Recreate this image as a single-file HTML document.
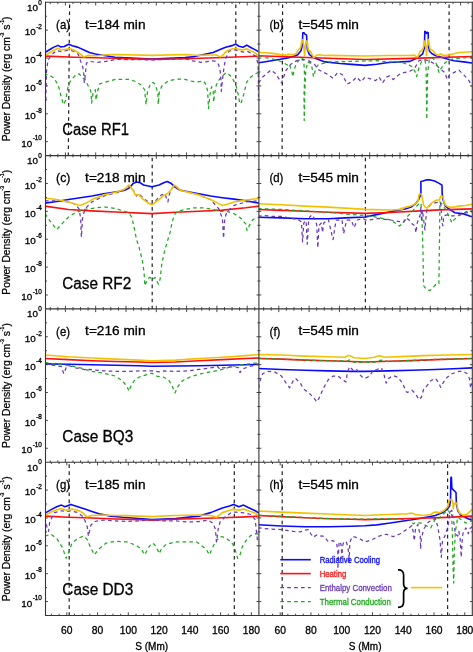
<!DOCTYPE html>
<html><head><meta charset="utf-8"><style>
html,body{margin:0;padding:0;background:#fff;}
svg{display:block;will-change:transform;}
text{font-family:"Liberation Sans",sans-serif;}
</style></head><body>
<svg width="473" height="652" viewBox="0 0 473 652">
<defs><clipPath id="p00"><rect x="45.50" y="2.30" width="213.40" height="153.30"/></clipPath><clipPath id="p01"><rect x="258.90" y="2.30" width="213.40" height="153.30"/></clipPath><clipPath id="p10"><rect x="45.50" y="155.60" width="213.40" height="153.30"/></clipPath><clipPath id="p11"><rect x="258.90" y="155.60" width="213.40" height="153.30"/></clipPath><clipPath id="p20"><rect x="45.50" y="308.90" width="213.40" height="153.30"/></clipPath><clipPath id="p21"><rect x="258.90" y="308.90" width="213.40" height="153.30"/></clipPath><clipPath id="p30"><rect x="45.50" y="462.20" width="213.40" height="153.30"/></clipPath><clipPath id="p31"><rect x="258.90" y="462.20" width="213.40" height="153.30"/></clipPath></defs>
<rect width="473" height="652" fill="#fff"/>
<line x1="69.60" y1="4.40" x2="68.30" y2="155.60" stroke="#222" stroke-width="1.2" stroke-dasharray="3.6 3.45"/>
<line x1="235.80" y1="4.40" x2="235.80" y2="155.60" stroke="#222" stroke-width="1.2" stroke-dasharray="3.6 3.45"/>
<line x1="282.60" y1="4.40" x2="282.10" y2="155.60" stroke="#222" stroke-width="1.2" stroke-dasharray="3.6 3.45"/>
<line x1="449.10" y1="4.40" x2="449.10" y2="155.60" stroke="#222" stroke-width="1.2" stroke-dasharray="3.6 3.45"/>
<line x1="152.20" y1="157.70" x2="152.20" y2="308.90" stroke="#222" stroke-width="1.2" stroke-dasharray="3.6 3.45"/>
<line x1="365.40" y1="157.70" x2="365.40" y2="308.90" stroke="#222" stroke-width="1.2" stroke-dasharray="3.6 3.45"/>
<line x1="69.20" y1="464.30" x2="69.20" y2="615.50" stroke="#222" stroke-width="1.2" stroke-dasharray="3.6 3.45"/>
<line x1="234.30" y1="464.30" x2="234.30" y2="615.50" stroke="#222" stroke-width="1.2" stroke-dasharray="3.6 3.45"/>
<line x1="282.20" y1="464.30" x2="282.20" y2="615.50" stroke="#222" stroke-width="1.2" stroke-dasharray="3.6 3.45"/>
<line x1="447.60" y1="464.30" x2="447.60" y2="615.50" stroke="#222" stroke-width="1.2" stroke-dasharray="3.6 3.45"/>
<polyline points="45.74,52.02 49.44,49.80 53.88,47.14 58.02,45.36 60.54,46.84 64.24,46.54 68.68,44.18 72.38,45.66 77.56,47.14 83.48,49.80 89.40,52.46 95.32,53.94 104.20,55.42 115.00,57.20 152.00,59.12 185.00,57.49 194.39,56.59 203.77,54.56 213.16,52.52 219.42,49.86 225.68,47.20 231.93,45.64 235.85,44.07 238.97,46.26 242.89,47.20 246.80,45.17 250.71,47.52 255.40,49.86 258.22,51.43" fill="none" stroke="#0a0aff" stroke-width="1.6" stroke-linejoin="round" clip-path="url(#p00)"/>
<polyline points="258.74,62.74 265.40,61.70 272.80,60.52 280.20,59.33 287.60,57.85 293.50,56.40 297.70,54.70 301.10,50.40 302.30,45.40 302.80,32.70 304.00,32.70 305.30,34.40 306.60,35.20 306.80,41.10 307.40,49.60 309.50,54.70 312.90,57.20 317.10,58.90 325.00,61.90 340.13,63.48 351.86,64.42 365.00,65.36 376.74,64.22 388.48,62.57 410.00,61.40 418.50,57.20 422.70,53.80 424.40,47.90 424.80,31.40 425.60,31.80 426.50,33.50 427.30,32.30 428.20,32.70 428.40,45.40 429.50,51.30 432.00,53.80 435.40,55.50 439.60,56.80 443.80,58.00 450.00,59.70 454.22,60.70 463.61,61.87 472.06,63.04" fill="none" stroke="#0a0aff" stroke-width="1.6" stroke-linejoin="round" clip-path="url(#p01)"/>
<polyline points="45.00,203.10 56.73,201.46 68.46,199.58 80.20,197.71 91.93,196.06 103.66,193.72 115.39,192.07 124.78,190.20 129.47,187.85 132.99,183.63 136.51,181.98 140.03,182.69 143.55,185.04 148.25,185.97 152.00,186.68 159.04,185.04 163.73,182.69 167.25,181.52 170.77,183.16 175.46,187.38 180.16,190.20 189.54,192.07 198.93,193.72 210.66,196.06 222.39,197.71 234.13,199.11 245.86,200.76 259.00,203.10" fill="none" stroke="#0a0aff" stroke-width="1.6" stroke-linejoin="round" clip-path="url(#p10)"/>
<polyline points="258.00,217.18 281.46,217.89 304.93,218.82 328.39,218.82 345.12,217.88 365.37,216.98 375.35,214.86 390.47,211.84 400.00,209.89 405.00,209.00 411.30,206.90 415.60,203.70 418.70,199.50 420.30,195.80 420.90,193.10 420.90,181.50 423.00,181.00 426.10,179.90 430.40,179.90 434.60,181.00 438.80,183.10 442.00,185.20 442.20,194.20 443.00,199.50 445.20,205.80 448.30,208.50 451.50,210.60 455.00,212.70 463.83,213.88 471.80,216.87" fill="none" stroke="#0a0aff" stroke-width="1.6" stroke-linejoin="round" clip-path="url(#p11)"/>
<polyline points="45.00,363.85 68.46,364.32 91.93,364.79 115.39,365.25 138.86,365.72 152.00,366.19 175.46,365.96 198.93,365.72 222.39,365.25 245.86,364.79 259.00,364.32" fill="none" stroke="#0a0aff" stroke-width="1.6" stroke-linejoin="round" clip-path="url(#p20)"/>
<polyline points="258.00,368.54 281.46,369.48 304.93,370.18 328.39,370.89 351.86,371.36 365.00,371.36 388.48,370.92 411.96,370.22 435.43,369.51 458.91,368.57 472.06,367.87" fill="none" stroke="#0a0aff" stroke-width="1.6" stroke-linejoin="round" clip-path="url(#p21)"/>
<polyline points="45.00,513.09 52.04,509.10 56.73,506.76 61.43,505.11 64.95,506.76 70.81,504.41 77.85,506.76 84.89,509.10 91.93,511.45 98.97,513.80 110.70,516.14 122.43,517.32 138.86,518.49 152.00,519.66 175.46,518.49 198.93,516.14 210.66,512.62 222.39,507.93 229.43,506.05 233.66,504.41 238.82,506.76 243.51,505.11 248.21,507.46 255.25,510.75 259.00,513.09" fill="none" stroke="#0a0aff" stroke-width="1.6" stroke-linejoin="round" clip-path="url(#p30)"/>
<polyline points="258.00,524.82 281.46,526.00 304.93,526.70 328.39,526.70 351.86,526.23 365.00,525.76 376.74,524.86 388.48,523.22 400.22,521.57 411.96,519.70 423.70,517.82 435.43,515.47 437.60,514.60 442.20,512.80 446.80,509.60 449.60,505.90 450.50,500.40 450.90,477.40 451.40,477.40 451.90,488.40 456.00,492.50 456.40,504.00 457.80,510.50 460.60,515.10 465.20,517.40 470.70,519.70 472.50,520.00" fill="none" stroke="#0a0aff" stroke-width="1.6" stroke-linejoin="round" clip-path="url(#p31)"/>
<polyline points="45.74,56.16 74.60,57.20 115.00,58.23 152.00,59.42 185.00,58.68 216.29,57.68 258.22,56.12" fill="none" stroke="#ff1010" stroke-width="1.6" stroke-linejoin="round" clip-path="url(#p00)"/>
<polyline points="258.00,55.78 328.00,58.30 365.00,59.49 411.96,58.35 472.06,56.47" fill="none" stroke="#ff1010" stroke-width="1.6" stroke-linejoin="round" clip-path="url(#p01)"/>
<polyline points="45.00,206.15 68.46,209.44 91.93,210.85 115.39,212.02 152.00,213.66 175.46,212.25 198.93,211.32 222.39,210.14 245.86,207.80 259.00,206.15" fill="none" stroke="#ff1010" stroke-width="1.6" stroke-linejoin="round" clip-path="url(#p10)"/>
<polyline points="258.00,209.44 281.46,210.38 304.93,211.32 328.39,212.25 365.37,213.35 390.47,212.44 419.95,210.89 439.89,209.89 471.80,208.89" fill="none" stroke="#ff1010" stroke-width="1.6" stroke-linejoin="round" clip-path="url(#p11)"/>
<polyline points="45.00,358.45 68.46,359.62 91.93,360.80 115.39,361.50 138.86,361.97 152.00,362.44 175.46,361.97 198.93,360.80 222.39,359.62 245.86,358.45 259.00,357.98" fill="none" stroke="#ff1010" stroke-width="1.6" stroke-linejoin="round" clip-path="url(#p20)"/>
<polyline points="258.00,358.45 281.46,359.15 304.93,360.09 328.39,360.80 351.86,361.50 365.00,361.97 388.48,361.30 411.96,360.59 435.43,359.65 472.06,358.48" fill="none" stroke="#ff1010" stroke-width="1.6" stroke-linejoin="round" clip-path="url(#p21)"/>
<polyline points="45.00,516.14 68.46,517.32 91.93,518.02 115.39,518.96 138.86,519.66 152.00,520.13 175.46,519.19 198.93,518.49 222.39,517.79 245.86,516.85 259.00,516.14" fill="none" stroke="#ff1010" stroke-width="1.6" stroke-linejoin="round" clip-path="url(#p30)"/>
<polyline points="258.00,515.44 281.46,516.61 304.93,517.79 328.39,518.72 351.86,519.19 365.00,519.66 411.96,518.52 447.17,517.35 472.06,516.17" fill="none" stroke="#ff1010" stroke-width="1.6" stroke-linejoin="round" clip-path="url(#p31)"/>
<polyline points="45.80,76.00 45.74,74.22 49.44,74.96 53.88,77.92 58.32,85.32 61.28,97.16 63.50,104.56 65.72,100.12 67.20,91.24 68.68,83.84 71.64,79.40 76.08,74.66 79.04,73.77 82.00,77.18 84.96,79.40 87.92,85.32 90.88,91.24 91.62,103.08 93.10,92.72 95.32,89.76 96.06,100.12 97.54,91.24 99.76,83.84 104.20,82.36 110.12,80.88 115.00,79.40 122.40,79.40 129.80,79.40 135.72,81.62 141.64,85.32 144.60,89.76 146.08,104.56 147.56,91.24 150.52,83.84 153.18,82.36 155.70,85.32 157.92,94.20 158.21,104.56 159.40,91.24 162.36,85.32 168.28,80.88 177.16,79.10 185.00,79.40 191.26,81.15 197.52,81.93 203.77,81.15 206.12,85.06 207.68,91.32 208.47,108.53 210.03,94.45 211.60,86.63 213.16,91.32 213.63,102.27 214.73,92.89 216.29,85.06 218.64,80.37 222.55,75.68 226.46,72.55 230.37,75.68 233.50,80.37 235.85,85.06 238.19,94.45 239.76,103.84 241.32,102.27 243.67,94.45 246.80,81.93 250.71,77.24 254.62,74.11 258.22,72.55 258.60,74.00" fill="none" stroke="#1eaa1e" stroke-width="1.25" stroke-linejoin="round" stroke-dasharray="3.6 3.2" clip-path="url(#p00)"/>
<polyline points="258.74,55.34 265.40,57.56 272.80,59.04 280.20,61.26 284.64,63.48 287.60,64.96 289.08,63.77 292.04,72.36 292.78,76.80 294.26,69.40 296.48,63.48 298.70,60.52 300.92,57.56 302.40,58.30 303.88,62.00 304.62,76.80 303.99,95.86 304.23,120.50 304.70,95.86 305.65,72.36 307.58,62.00 311.28,63.48 313.50,76.80 314.24,75.32 315.72,67.92 318.68,64.22 323.12,63.48 328.00,62.00 376.74,60.70 388.48,61.87 400.22,61.87 407.26,64.22 411.96,66.57 415.48,72.43 416.65,76.66 419.00,67.74 421.35,61.87 424.87,60.23 426.04,65.39 426.75,119.39 427.69,72.43 429.57,58.35 433.09,58.35 436.61,64.22 438.96,72.43 440.13,70.09 444.83,63.04 449.52,59.52 458.91,58.35 472.06,57.17" fill="none" stroke="#1eaa1e" stroke-width="1.25" stroke-linejoin="round" stroke-dasharray="3.6 3.2" clip-path="url(#p01)"/>
<polyline points="45.00,213.66 49.69,220.70 56.73,229.62 63.77,221.88 68.46,217.18 75.50,212.49 84.89,209.44 96.62,207.80 106.01,207.09 115.39,208.50 124.78,211.32 128.30,212.49 131.82,217.18 134.17,227.74 136.51,239.47 138.97,246.91 142.36,260.44 144.05,272.28 144.89,285.81 147.43,279.05 149.97,277.36 152.51,279.89 155.04,277.36 156.73,280.74 158.42,284.12 160.12,279.05 161.81,263.83 164.34,251.99 167.73,240.15 170.26,231.69 171.95,223.05 174.29,214.84 177.81,211.32 184.85,209.44 194.24,207.80 203.62,207.80 213.01,209.44 220.05,211.32 227.09,211.32 234.13,213.66 241.17,218.36 245.86,224.22 247.03,230.56 249.38,225.39 252.90,219.53 259.00,217.18" fill="none" stroke="#1eaa1e" stroke-width="1.25" stroke-linejoin="round" stroke-dasharray="3.6 3.2" clip-path="url(#p10)"/>
<polyline points="258.00,208.50 281.46,209.44 304.93,210.85 328.39,212.25 345.12,213.95 365.37,215.47 375.35,216.98 390.47,220.00 399.53,226.05 403.99,221.86 407.98,215.87 411.97,211.89 415.96,206.90 418.95,203.91 420.94,202.91 421.94,215.87 422.94,249.78 423.54,285.68 425.93,288.67 429.92,290.67 432.91,287.68 435.90,284.09 438.89,283.69 439.49,239.81 439.89,201.91 441.89,203.91 445.87,209.89 449.86,217.87 451.86,222.86 453.85,219.86 459.84,214.88 465.82,211.89 471.80,209.89" fill="none" stroke="#1eaa1e" stroke-width="1.25" stroke-linejoin="round" stroke-dasharray="3.6 3.2" clip-path="url(#p11)"/>
<polyline points="45.00,362.44 56.73,364.32 68.46,365.49 80.20,367.84 91.93,371.36 103.66,373.23 115.39,376.05 122.43,380.74 127.13,386.61 129.00,391.30 130.65,386.61 134.17,380.74 138.86,377.22 145.90,374.88 152.00,373.23 156.69,376.05 163.73,377.22 168.43,379.57 171.95,385.43 175.00,392.94 177.81,386.61 182.50,380.74 189.54,377.22 198.93,374.17 210.66,371.82 222.39,369.48 229.43,367.13 236.47,365.49 245.86,364.32 255.25,363.14 259.00,363.14" fill="none" stroke="#1eaa1e" stroke-width="1.25" stroke-linejoin="round" stroke-dasharray="3.6 3.2" clip-path="url(#p20)"/>
<polyline points="258.00,358.21 281.46,359.15 304.93,360.09 328.39,360.80 347.17,361.03 349.51,359.86 351.86,361.03 354.21,362.44 365.00,362.20 374.39,362.47 376.74,360.83 381.43,360.12 388.48,361.53 411.96,360.36 435.43,359.42 472.06,358.48" fill="none" stroke="#1eaa1e" stroke-width="1.25" stroke-linejoin="round" stroke-dasharray="3.6 3.2" clip-path="url(#p21)"/>
<polyline points="45.00,536.09 50.87,534.21 56.73,538.43 62.60,547.82 66.12,558.38 68.46,552.51 71.98,543.13 77.85,538.43 83.72,536.09 87.24,539.61 90.76,547.82 94.28,554.86 98.97,548.99 106.01,543.13 115.39,541.25 127.13,541.95 136.51,545.47 141.21,548.99 144.73,554.86 148.25,547.82 152.00,543.13 154.35,544.30 157.87,550.17 159.04,553.69 161.39,548.99 166.08,544.30 175.46,541.95 187.20,541.95 196.58,541.95 201.28,545.47 205.97,548.99 209.49,554.86 211.84,548.99 215.36,541.95 220.05,536.56 224.74,537.26 229.43,540.78 232.95,544.30 235.30,550.17 237.65,558.38 239.99,554.86 242.34,546.65 245.86,540.78 250.55,535.62 255.25,533.74 259.00,534.21" fill="none" stroke="#1eaa1e" stroke-width="1.25" stroke-linejoin="round" stroke-dasharray="3.6 3.2" clip-path="url(#p30)"/>
<polyline points="258.00,515.20 281.46,516.38 304.93,517.55 328.39,518.49 351.86,518.96 365.00,519.19 388.48,518.52 400.22,519.23 410.78,519.70 413.13,523.92 415.48,522.51 421.35,523.22 428.39,526.74 430.74,527.91 434.26,520.87 435.43,518.52 437.78,519.23 442.48,515.00 446.00,511.48 448.35,510.30 449.99,513.83 451.40,512.65 452.34,531.43 453.04,566.65 453.75,583.09 454.22,554.91 455.39,531.43 456.57,524.39 457.74,517.35 461.26,519.70 465.96,523.22 469.48,521.57 472.06,520.87" fill="none" stroke="#1eaa1e" stroke-width="1.25" stroke-linejoin="round" stroke-dasharray="3.6 3.2" clip-path="url(#p31)"/>
<polyline points="45.74,100.12 46.48,72.00 47.96,60.16 50.92,55.72 53.88,52.76 56.84,50.54 61.28,51.58 65.72,50.54 69.42,49.80 74.60,51.58 78.30,54.24 80.52,60.90 82.74,66.82 83.77,73.48 84.22,82.36 84.96,77.92 86.44,63.12 89.40,61.34 96.80,62.38 104.20,61.64 110.12,60.90 115.00,59.42 152.00,59.86 185.00,58.68 192.82,60.81 200.64,62.38 206.90,61.60 213.16,60.81 216.29,61.60 218.64,64.73 220.20,70.98 220.98,80.37 221.30,91.32 222.55,78.81 224.11,66.29 225.68,58.47 228.81,51.43 231.93,49.86 235.06,49.86 239.76,51.43 244.45,52.21 247.58,51.43 252.27,53.77 256.18,56.90 257.75,63.16 258.22,69.42 258.60,100.00" fill="none" stroke="#6a3ab8" stroke-width="1.25" stroke-linejoin="round" stroke-dasharray="3.6 3.2" clip-path="url(#p00)"/>
<polyline points="258.47,82.95 262.69,77.09 270.91,70.05 275.60,73.57 281.46,82.95 286.16,70.05 290.85,64.18 296.72,60.66 303.76,59.49 308.45,60.66 314.32,64.18 319.01,70.05 323.70,72.39 328.39,74.74 333.09,78.26 337.78,72.39 342.47,74.74 347.17,84.13 351.86,81.78 356.55,77.09 361.25,81.78 365.00,77.09 372.04,79.48 375.57,80.65 379.09,77.13 382.61,83.00 386.13,77.13 389.65,75.96 393.17,79.48 396.70,76.66 400.22,73.61 404.91,72.43 409.61,71.26 414.30,68.91 419.00,60.70 423.70,59.52 428.39,60.70 433.09,63.04 435.43,64.22 440.13,68.91 444.83,72.43 447.17,79.48 449.52,74.78 454.22,72.43 458.91,70.09 463.61,74.78 468.30,79.48 472.06,86.52" fill="none" stroke="#6a3ab8" stroke-width="1.25" stroke-linejoin="round" stroke-dasharray="3.6 3.2" clip-path="url(#p01)"/>
<polyline points="45.00,200.76 56.73,200.76 68.46,201.93 75.50,204.28 79.02,208.97 80.67,218.36 81.37,237.13 82.54,218.36 84.89,208.97 91.93,201.93 103.66,196.06 115.39,193.01 124.78,190.20 129.47,185.50 132.99,190.20 135.34,192.54 136.51,196.06 137.69,193.72 140.03,194.89 143.55,198.41 148.25,201.93 152.00,204.28 156.69,199.58 161.39,194.89 164.91,193.72 166.55,198.41 167.96,201.93 168.89,196.06 170.77,190.20 174.29,185.50 177.81,189.02 187.20,192.07 198.93,194.89 210.66,199.58 218.88,208.97 222.39,218.36 223.57,238.30 224.74,218.36 227.09,211.32 234.13,205.45 245.86,201.93 259.00,200.76" fill="none" stroke="#6a3ab8" stroke-width="1.25" stroke-linejoin="round" stroke-dasharray="3.6 3.2" clip-path="url(#p10)"/>
<polyline points="258.00,216.01 265.04,215.54 272.08,216.48 281.46,216.48 290.85,218.36 297.89,219.53 301.41,221.88 302.58,241.82 303.76,223.05 306.10,220.70 307.28,244.17 308.45,223.05 309.62,217.18 311.97,214.84 314.32,218.36 316.66,224.22 317.84,247.69 319.01,225.39 321.36,223.05 322.53,232.43 323.70,223.05 328.39,219.53 333.02,239.65 336.05,220.00 342.09,220.00 343.60,233.60 346.63,220.00 351.16,220.00 354.19,227.56 357.21,220.00 363.26,218.49 365.37,220.00 369.30,220.00 378.37,218.49 390.47,220.00 399.53,221.51 402.99,222.86 405.98,217.87 408.98,219.86 411.97,223.85 414.96,225.85 415.96,232.83 416.95,223.85 418.95,217.87 419.95,215.87 420.94,206.90 421.54,221.86 422.34,209.89 423.93,221.86 424.93,229.84 425.93,217.87 426.93,209.89 429.92,204.90 433.91,202.91 437.90,202.31 439.89,201.91 440.89,204.90 441.89,221.86 442.88,225.85 443.88,215.87 446.87,214.88 449.86,215.87 453.85,215.87 459.84,214.88 465.82,212.88 471.80,211.89" fill="none" stroke="#6a3ab8" stroke-width="1.25" stroke-linejoin="round" stroke-dasharray="3.6 3.2" clip-path="url(#p11)"/>
<polyline points="45.00,363.85 54.39,365.49 61.43,366.66 63.77,373.70 66.12,367.84 68.46,365.49 75.50,367.84 82.54,369.01 86.06,370.18 89.58,369.48 103.66,370.89 115.39,371.36 127.13,371.36 138.86,370.89 152.00,370.89 159.04,371.82 163.73,370.89 175.46,371.36 187.20,370.89 198.93,369.48 210.66,367.84 217.70,366.66 220.05,369.48 222.39,367.84 234.13,366.66 238.82,367.84 239.99,372.53 242.34,369.01 250.55,366.19 259.00,364.32" fill="none" stroke="#6a3ab8" stroke-width="1.25" stroke-linejoin="round" stroke-dasharray="3.6 3.2" clip-path="url(#p20)"/>
<polyline points="258.47,394.82 259.17,383.09 262.69,373.70 267.39,371.36 274.43,371.82 281.46,376.05 286.16,383.09 289.68,387.78 293.20,380.74 295.54,378.39 300.24,383.09 303.76,388.95 309.62,393.65 314.32,398.34 316.66,401.86 319.01,398.34 323.70,387.78 328.39,379.57 333.09,376.05 337.78,376.05 342.47,379.57 345.99,381.91 347.17,373.70 349.51,366.66 353.03,370.18 356.55,369.01 358.90,373.70 362.42,377.22 365.00,378.39 369.70,376.09 373.22,370.22 376.74,369.51 379.09,368.57 381.43,367.87 383.78,373.74 386.13,383.13 388.48,378.43 393.17,375.62 397.87,377.26 402.57,383.13 406.09,391.35 407.26,392.52 411.96,390.17 415.48,393.70 419.00,399.57 421.35,397.22 423.70,389.00 427.22,385.48 430.74,380.78 435.43,378.43 438.96,383.13 440.60,387.36 443.65,381.96 447.17,377.26 451.87,373.74 458.91,371.39 463.61,371.39 467.13,373.74 469.48,378.43 470.65,387.83 472.06,383.13" fill="none" stroke="#6a3ab8" stroke-width="1.25" stroke-linejoin="round" stroke-dasharray="3.6 3.2" clip-path="url(#p21)"/>
<polyline points="45.00,517.32 46.17,524.36 48.52,531.39 49.69,522.01 54.39,512.62 61.43,510.75 66.12,511.45 70.81,510.75 77.85,512.62 83.72,517.32 87.24,526.70 88.41,536.09 90.76,525.53 94.28,521.54 103.66,520.13 115.39,520.84 127.13,521.54 138.86,520.84 152.00,520.13 163.73,520.84 175.46,520.84 187.20,522.01 198.93,521.54 208.32,520.13 213.01,523.18 215.36,529.05 216.53,541.95 218.17,529.05 220.05,522.01 224.74,517.32 231.78,512.15 236.47,512.15 241.17,512.62 245.86,513.09 250.55,514.50 255.25,519.66 256.42,531.39 257.59,540.78" fill="none" stroke="#6a3ab8" stroke-width="1.25" stroke-linejoin="round" stroke-dasharray="3.6 3.2" clip-path="url(#p30)"/>
<polyline points="258.00,527.88 269.73,529.05 281.46,529.52 293.20,531.39 300.24,531.86 304.93,530.22 308.45,529.52 310.80,533.74 313.14,537.26 316.66,534.91 321.36,536.09 322.50,535.90 325.10,537.60 327.60,541.00 329.30,541.80 332.70,540.60 335.20,541.80 336.90,544.80 337.80,552.00 337.90,568.90 338.40,555.40 339.00,543.50 340.30,541.40 341.10,545.20 342.00,557.90 342.40,546.90 343.70,541.80 346.20,541.80 347.90,546.90 348.80,555.40 349.20,562.10 349.60,546.90 350.40,541.00 352.10,536.80 355.50,537.20 361.25,539.61 365.00,541.95 372.04,539.65 379.09,536.13 386.13,534.25 393.17,536.60 400.22,533.78 407.26,529.09 411.96,525.57 413.13,531.43 414.30,540.83 415.48,529.09 417.83,524.39 420.17,534.96 420.64,549.04 421.35,538.48 423.70,529.09 428.39,522.04 433.09,519.70 435.43,518.52 437.78,526.74 440.13,540.83 441.30,557.26 442.48,540.83 444.83,536.13 447.17,529.09 448.35,524.39 449.52,512.65 451.87,510.30 453.75,522.04 455.39,533.78 457.74,536.13 458.91,531.43 460.09,538.48 461.26,557.26 462.43,536.13 463.61,531.43 465.96,527.91 468.30,533.78 469.48,529.09 472.06,526.74" fill="none" stroke="#6a3ab8" stroke-width="1.25" stroke-linejoin="round" stroke-dasharray="3.6 3.2" clip-path="url(#p31)"/>
<polyline points="45.74,54.98 50.92,52.02 57.58,48.32 61.28,49.80 65.72,49.36 69.42,48.62 74.60,50.54 79.04,53.05 83.77,56.90 87.92,55.42 96.80,55.72 107.16,54.68 115.00,54.53 152.00,55.42 185.00,54.53 192.82,55.03 200.64,55.34 208.47,55.03 216.29,55.03 220.20,56.90 222.55,55.34 227.24,50.64 231.93,49.08 235.85,48.30 238.97,49.39 242.89,49.86 246.80,48.77 250.71,50.64 255.40,52.99 258.22,56.12" fill="none" stroke="#f2c200" stroke-width="1.6" stroke-linejoin="round" clip-path="url(#p00)"/>
<polyline points="258.74,52.38 265.40,52.82 272.80,53.41 280.20,54.60 285.00,55.10 289.20,54.20 293.50,54.70 296.80,53.00 298.10,50.00 300.60,47.50 301.90,40.30 302.80,39.50 303.60,45.40 304.60,55.50 305.30,47.10 306.10,41.10 307.20,41.10 308.30,50.40 310.40,51.30 312.10,54.70 313.80,57.60 316.30,55.50 318.80,54.70 325.00,55.50 328.00,55.34 365.00,56.00 388.48,55.53 410.00,55.50 414.20,55.10 417.60,57.20 420.10,51.30 422.70,49.60 424.00,45.40 424.50,41.10 425.60,45.40 426.50,55.50 427.30,45.40 428.20,39.40 429.00,43.70 430.30,49.60 432.80,50.40 435.40,53.80 437.90,55.50 440.40,53.80 443.80,55.50 450.00,54.70 458.91,52.48 472.06,51.77" fill="none" stroke="#f2c200" stroke-width="1.6" stroke-linejoin="round" clip-path="url(#p01)"/>
<polyline points="45.00,197.94 56.73,199.58 68.46,201.93 80.20,205.45 86.06,203.10 91.93,199.58 103.66,194.89 115.39,192.54 124.78,189.02 129.00,185.04 132.99,190.20 135.34,194.89 138.86,194.89 143.55,199.58 148.25,203.10 152.00,204.75 159.04,199.58 163.73,195.36 167.25,193.72 170.77,190.20 174.29,185.04 176.64,186.68 180.16,190.20 189.54,192.54 198.93,194.89 210.66,199.58 217.70,203.10 222.39,205.45 227.09,204.28 234.13,201.93 245.86,200.05 259.00,198.41" fill="none" stroke="#f2c200" stroke-width="1.6" stroke-linejoin="round" clip-path="url(#p10)"/>
<polyline points="258.00,203.81 281.46,204.75 304.93,206.15 328.39,207.09 365.37,209.42 390.47,210.02 402.56,209.42 400.00,208.89 405.00,207.40 409.20,206.40 413.50,204.80 416.60,202.70 418.20,200.50 419.00,194.70 419.80,193.70 421.40,194.20 422.40,198.40 423.50,204.80 425.60,207.40 427.20,207.90 428.80,205.80 431.40,203.20 434.60,201.10 437.20,200.00 439.40,200.00 440.40,196.80 441.50,195.80 443.00,196.80 444.10,202.10 445.70,205.30 448.30,206.90 451.50,207.40 455.00,206.90 459.84,205.90 465.82,205.50 471.80,204.31" fill="none" stroke="#f2c200" stroke-width="1.6" stroke-linejoin="round" clip-path="url(#p11)"/>
<polyline points="45.00,354.93 68.46,356.81 91.93,357.98 115.39,359.15 138.86,360.09 152.00,360.80 175.46,360.09 198.93,358.45 222.39,357.28 245.86,355.63 259.00,354.46" fill="none" stroke="#f2c200" stroke-width="1.6" stroke-linejoin="round" clip-path="url(#p20)"/>
<polyline points="258.00,354.46 281.46,354.93 304.93,356.10 328.39,356.81 344.82,357.28 348.34,355.40 350.69,356.10 354.21,357.75 365.00,358.45 374.39,357.30 379.09,355.66 381.43,356.13 383.78,357.30 400.22,356.60 423.70,355.66 447.17,354.96 472.06,354.49" fill="none" stroke="#f2c200" stroke-width="1.6" stroke-linejoin="round" clip-path="url(#p21)"/>
<polyline points="45.00,515.44 52.04,511.45 61.43,508.40 66.12,510.28 71.98,509.10 77.85,510.28 82.54,512.62 86.77,516.85 91.93,515.44 103.66,514.97 115.39,515.44 127.13,515.67 138.86,516.14 152.00,516.61 175.46,515.44 198.93,514.97 210.66,515.44 216.53,517.32 222.39,512.62 229.43,510.28 234.13,509.10 238.82,510.28 243.51,509.10 248.21,510.75 255.25,513.09 259.00,516.14" fill="none" stroke="#f2c200" stroke-width="1.6" stroke-linejoin="round" clip-path="url(#p30)"/>
<polyline points="258.00,510.98 281.46,512.15 304.93,513.09 328.39,514.03 351.86,514.97 365.00,515.44 376.74,515.00 388.48,514.53 400.22,514.06 407.26,513.83 411.96,513.12 415.48,514.53 423.70,515.47 430.74,514.53 433.00,512.80 435.80,511.90 439.40,512.80 444.00,510.50 447.70,506.80 449.10,500.40 450.90,499.40 452.80,501.30 453.20,508.60 454.00,503.60 456.90,503.10 457.60,508.60 459.70,513.20 463.30,515.10 467.00,514.20 470.70,510.90 472.50,509.00" fill="none" stroke="#f2c200" stroke-width="1.6" stroke-linejoin="round" clip-path="url(#p31)"/>
<line x1="280.3" y1="559.7" x2="310.8" y2="559.7" stroke="#0a0aff" stroke-width="1.6"/>
<text x="319.70" y="562.60" font-size="8.8" fill="#0a0aff" stroke="#0a0aff" stroke-width="0.3" text-anchor="start" textLength="60.4" lengthAdjust="spacingAndGlyphs" >Radiative Cooling</text>
<line x1="280.3" y1="573.6" x2="310.8" y2="573.6" stroke="#ff1010" stroke-width="1.6"/>
<text x="319.70" y="576.50" font-size="8.8" fill="#ff1010" stroke="#ff1010" stroke-width="0.3" text-anchor="start" textLength="26.6" lengthAdjust="spacingAndGlyphs" >Heating</text>
<line x1="280.3" y1="587.6" x2="310.8" y2="587.6" stroke="#6a3ab8" stroke-width="1.3" stroke-dasharray="3.7 3.2"/>
<text x="319.70" y="590.50" font-size="8.8" fill="#6a3ab8" stroke="#6a3ab8" stroke-width="0.3" text-anchor="start" textLength="72.1" lengthAdjust="spacingAndGlyphs" >Enthalpy Convection</text>
<line x1="280.3" y1="601.6" x2="310.8" y2="601.6" stroke="#1eaa1e" stroke-width="1.3" stroke-dasharray="3.7 3.2"/>
<text x="319.70" y="604.50" font-size="8.8" fill="#1eaa1e" stroke="#1eaa1e" stroke-width="0.3" text-anchor="start" textLength="71.1" lengthAdjust="spacingAndGlyphs" >Thermal Conduction</text>
<path d="M398,569.9 Q403.6,569.6 403.6,575 L403.6,583.8 Q403.6,588.3 407.6,588.3 Q403.6,588.3 403.6,592.8 L403.6,602 Q403.6,607.4 398,607.4" fill="none" stroke="#000" stroke-width="1.7"/>
<line x1="411" y1="587.6" x2="442" y2="587.6" stroke="#f2c200" stroke-width="1.6"/>
<line x1="50.25" y1="155.60" x2="50.25" y2="153.80" stroke="#353535" stroke-width="0.9" />
<line x1="50.25" y1="2.30" x2="50.25" y2="4.10" stroke="#353535" stroke-width="0.9" />
<line x1="57.83" y1="155.60" x2="57.83" y2="153.80" stroke="#353535" stroke-width="0.9" />
<line x1="57.83" y1="2.30" x2="57.83" y2="4.10" stroke="#353535" stroke-width="0.9" />
<line x1="65.40" y1="155.60" x2="65.40" y2="152.40" stroke="#353535" stroke-width="0.9" />
<line x1="65.40" y1="2.30" x2="65.40" y2="5.50" stroke="#353535" stroke-width="0.9" />
<line x1="72.98" y1="155.60" x2="72.98" y2="153.80" stroke="#353535" stroke-width="0.9" />
<line x1="72.98" y1="2.30" x2="72.98" y2="4.10" stroke="#353535" stroke-width="0.9" />
<line x1="80.55" y1="155.60" x2="80.55" y2="153.80" stroke="#353535" stroke-width="0.9" />
<line x1="80.55" y1="2.30" x2="80.55" y2="4.10" stroke="#353535" stroke-width="0.9" />
<line x1="88.12" y1="155.60" x2="88.12" y2="153.80" stroke="#353535" stroke-width="0.9" />
<line x1="88.12" y1="2.30" x2="88.12" y2="4.10" stroke="#353535" stroke-width="0.9" />
<line x1="95.70" y1="155.60" x2="95.70" y2="152.40" stroke="#353535" stroke-width="0.9" />
<line x1="95.70" y1="2.30" x2="95.70" y2="5.50" stroke="#353535" stroke-width="0.9" />
<line x1="103.28" y1="155.60" x2="103.28" y2="153.80" stroke="#353535" stroke-width="0.9" />
<line x1="103.28" y1="2.30" x2="103.28" y2="4.10" stroke="#353535" stroke-width="0.9" />
<line x1="110.85" y1="155.60" x2="110.85" y2="153.80" stroke="#353535" stroke-width="0.9" />
<line x1="110.85" y1="2.30" x2="110.85" y2="4.10" stroke="#353535" stroke-width="0.9" />
<line x1="118.43" y1="155.60" x2="118.43" y2="153.80" stroke="#353535" stroke-width="0.9" />
<line x1="118.43" y1="2.30" x2="118.43" y2="4.10" stroke="#353535" stroke-width="0.9" />
<line x1="126.00" y1="155.60" x2="126.00" y2="152.40" stroke="#353535" stroke-width="0.9" />
<line x1="126.00" y1="2.30" x2="126.00" y2="5.50" stroke="#353535" stroke-width="0.9" />
<line x1="133.57" y1="155.60" x2="133.57" y2="153.80" stroke="#353535" stroke-width="0.9" />
<line x1="133.57" y1="2.30" x2="133.57" y2="4.10" stroke="#353535" stroke-width="0.9" />
<line x1="141.15" y1="155.60" x2="141.15" y2="153.80" stroke="#353535" stroke-width="0.9" />
<line x1="141.15" y1="2.30" x2="141.15" y2="4.10" stroke="#353535" stroke-width="0.9" />
<line x1="148.72" y1="155.60" x2="148.72" y2="153.80" stroke="#353535" stroke-width="0.9" />
<line x1="148.72" y1="2.30" x2="148.72" y2="4.10" stroke="#353535" stroke-width="0.9" />
<line x1="156.30" y1="155.60" x2="156.30" y2="152.40" stroke="#353535" stroke-width="0.9" />
<line x1="156.30" y1="2.30" x2="156.30" y2="5.50" stroke="#353535" stroke-width="0.9" />
<line x1="163.88" y1="155.60" x2="163.88" y2="153.80" stroke="#353535" stroke-width="0.9" />
<line x1="163.88" y1="2.30" x2="163.88" y2="4.10" stroke="#353535" stroke-width="0.9" />
<line x1="171.45" y1="155.60" x2="171.45" y2="153.80" stroke="#353535" stroke-width="0.9" />
<line x1="171.45" y1="2.30" x2="171.45" y2="4.10" stroke="#353535" stroke-width="0.9" />
<line x1="179.02" y1="155.60" x2="179.02" y2="153.80" stroke="#353535" stroke-width="0.9" />
<line x1="179.02" y1="2.30" x2="179.02" y2="4.10" stroke="#353535" stroke-width="0.9" />
<line x1="186.60" y1="155.60" x2="186.60" y2="152.40" stroke="#353535" stroke-width="0.9" />
<line x1="186.60" y1="2.30" x2="186.60" y2="5.50" stroke="#353535" stroke-width="0.9" />
<line x1="194.18" y1="155.60" x2="194.18" y2="153.80" stroke="#353535" stroke-width="0.9" />
<line x1="194.18" y1="2.30" x2="194.18" y2="4.10" stroke="#353535" stroke-width="0.9" />
<line x1="201.75" y1="155.60" x2="201.75" y2="153.80" stroke="#353535" stroke-width="0.9" />
<line x1="201.75" y1="2.30" x2="201.75" y2="4.10" stroke="#353535" stroke-width="0.9" />
<line x1="209.32" y1="155.60" x2="209.32" y2="153.80" stroke="#353535" stroke-width="0.9" />
<line x1="209.32" y1="2.30" x2="209.32" y2="4.10" stroke="#353535" stroke-width="0.9" />
<line x1="216.90" y1="155.60" x2="216.90" y2="152.40" stroke="#353535" stroke-width="0.9" />
<line x1="216.90" y1="2.30" x2="216.90" y2="5.50" stroke="#353535" stroke-width="0.9" />
<line x1="224.47" y1="155.60" x2="224.47" y2="153.80" stroke="#353535" stroke-width="0.9" />
<line x1="224.47" y1="2.30" x2="224.47" y2="4.10" stroke="#353535" stroke-width="0.9" />
<line x1="232.05" y1="155.60" x2="232.05" y2="153.80" stroke="#353535" stroke-width="0.9" />
<line x1="232.05" y1="2.30" x2="232.05" y2="4.10" stroke="#353535" stroke-width="0.9" />
<line x1="239.62" y1="155.60" x2="239.62" y2="153.80" stroke="#353535" stroke-width="0.9" />
<line x1="239.62" y1="2.30" x2="239.62" y2="4.10" stroke="#353535" stroke-width="0.9" />
<line x1="247.20" y1="155.60" x2="247.20" y2="152.40" stroke="#353535" stroke-width="0.9" />
<line x1="247.20" y1="2.30" x2="247.20" y2="5.50" stroke="#353535" stroke-width="0.9" />
<line x1="254.78" y1="155.60" x2="254.78" y2="153.80" stroke="#353535" stroke-width="0.9" />
<line x1="254.78" y1="2.30" x2="254.78" y2="4.10" stroke="#353535" stroke-width="0.9" />
<line x1="45.50" y1="16.24" x2="47.00" y2="16.24" stroke="#353535" stroke-width="0.9" />
<line x1="258.90" y1="16.24" x2="257.40" y2="16.24" stroke="#353535" stroke-width="0.9" />
<line x1="45.50" y1="30.17" x2="47.90" y2="30.17" stroke="#353535" stroke-width="0.9" />
<line x1="258.90" y1="30.17" x2="256.50" y2="30.17" stroke="#353535" stroke-width="0.9" />
<line x1="45.50" y1="44.11" x2="47.00" y2="44.11" stroke="#353535" stroke-width="0.9" />
<line x1="258.90" y1="44.11" x2="257.40" y2="44.11" stroke="#353535" stroke-width="0.9" />
<line x1="45.50" y1="58.05" x2="47.90" y2="58.05" stroke="#353535" stroke-width="0.9" />
<line x1="258.90" y1="58.05" x2="256.50" y2="58.05" stroke="#353535" stroke-width="0.9" />
<line x1="45.50" y1="71.98" x2="47.00" y2="71.98" stroke="#353535" stroke-width="0.9" />
<line x1="258.90" y1="71.98" x2="257.40" y2="71.98" stroke="#353535" stroke-width="0.9" />
<line x1="45.50" y1="85.92" x2="47.90" y2="85.92" stroke="#353535" stroke-width="0.9" />
<line x1="258.90" y1="85.92" x2="256.50" y2="85.92" stroke="#353535" stroke-width="0.9" />
<line x1="45.50" y1="99.85" x2="47.00" y2="99.85" stroke="#353535" stroke-width="0.9" />
<line x1="258.90" y1="99.85" x2="257.40" y2="99.85" stroke="#353535" stroke-width="0.9" />
<line x1="45.50" y1="113.79" x2="47.90" y2="113.79" stroke="#353535" stroke-width="0.9" />
<line x1="258.90" y1="113.79" x2="256.50" y2="113.79" stroke="#353535" stroke-width="0.9" />
<line x1="45.50" y1="127.73" x2="47.00" y2="127.73" stroke="#353535" stroke-width="0.9" />
<line x1="258.90" y1="127.73" x2="257.40" y2="127.73" stroke="#353535" stroke-width="0.9" />
<line x1="45.50" y1="141.66" x2="47.90" y2="141.66" stroke="#353535" stroke-width="0.9" />
<line x1="258.90" y1="141.66" x2="256.50" y2="141.66" stroke="#353535" stroke-width="0.9" />
<line x1="263.65" y1="155.60" x2="263.65" y2="153.80" stroke="#353535" stroke-width="0.9" />
<line x1="263.65" y1="2.30" x2="263.65" y2="4.10" stroke="#353535" stroke-width="0.9" />
<line x1="271.22" y1="155.60" x2="271.22" y2="153.80" stroke="#353535" stroke-width="0.9" />
<line x1="271.22" y1="2.30" x2="271.22" y2="4.10" stroke="#353535" stroke-width="0.9" />
<line x1="278.80" y1="155.60" x2="278.80" y2="152.40" stroke="#353535" stroke-width="0.9" />
<line x1="278.80" y1="2.30" x2="278.80" y2="5.50" stroke="#353535" stroke-width="0.9" />
<line x1="286.37" y1="155.60" x2="286.37" y2="153.80" stroke="#353535" stroke-width="0.9" />
<line x1="286.37" y1="2.30" x2="286.37" y2="4.10" stroke="#353535" stroke-width="0.9" />
<line x1="293.95" y1="155.60" x2="293.95" y2="153.80" stroke="#353535" stroke-width="0.9" />
<line x1="293.95" y1="2.30" x2="293.95" y2="4.10" stroke="#353535" stroke-width="0.9" />
<line x1="301.52" y1="155.60" x2="301.52" y2="153.80" stroke="#353535" stroke-width="0.9" />
<line x1="301.52" y1="2.30" x2="301.52" y2="4.10" stroke="#353535" stroke-width="0.9" />
<line x1="309.10" y1="155.60" x2="309.10" y2="152.40" stroke="#353535" stroke-width="0.9" />
<line x1="309.10" y1="2.30" x2="309.10" y2="5.50" stroke="#353535" stroke-width="0.9" />
<line x1="316.67" y1="155.60" x2="316.67" y2="153.80" stroke="#353535" stroke-width="0.9" />
<line x1="316.67" y1="2.30" x2="316.67" y2="4.10" stroke="#353535" stroke-width="0.9" />
<line x1="324.25" y1="155.60" x2="324.25" y2="153.80" stroke="#353535" stroke-width="0.9" />
<line x1="324.25" y1="2.30" x2="324.25" y2="4.10" stroke="#353535" stroke-width="0.9" />
<line x1="331.82" y1="155.60" x2="331.82" y2="153.80" stroke="#353535" stroke-width="0.9" />
<line x1="331.82" y1="2.30" x2="331.82" y2="4.10" stroke="#353535" stroke-width="0.9" />
<line x1="339.40" y1="155.60" x2="339.40" y2="152.40" stroke="#353535" stroke-width="0.9" />
<line x1="339.40" y1="2.30" x2="339.40" y2="5.50" stroke="#353535" stroke-width="0.9" />
<line x1="346.97" y1="155.60" x2="346.97" y2="153.80" stroke="#353535" stroke-width="0.9" />
<line x1="346.97" y1="2.30" x2="346.97" y2="4.10" stroke="#353535" stroke-width="0.9" />
<line x1="354.55" y1="155.60" x2="354.55" y2="153.80" stroke="#353535" stroke-width="0.9" />
<line x1="354.55" y1="2.30" x2="354.55" y2="4.10" stroke="#353535" stroke-width="0.9" />
<line x1="362.12" y1="155.60" x2="362.12" y2="153.80" stroke="#353535" stroke-width="0.9" />
<line x1="362.12" y1="2.30" x2="362.12" y2="4.10" stroke="#353535" stroke-width="0.9" />
<line x1="369.70" y1="155.60" x2="369.70" y2="152.40" stroke="#353535" stroke-width="0.9" />
<line x1="369.70" y1="2.30" x2="369.70" y2="5.50" stroke="#353535" stroke-width="0.9" />
<line x1="377.27" y1="155.60" x2="377.27" y2="153.80" stroke="#353535" stroke-width="0.9" />
<line x1="377.27" y1="2.30" x2="377.27" y2="4.10" stroke="#353535" stroke-width="0.9" />
<line x1="384.85" y1="155.60" x2="384.85" y2="153.80" stroke="#353535" stroke-width="0.9" />
<line x1="384.85" y1="2.30" x2="384.85" y2="4.10" stroke="#353535" stroke-width="0.9" />
<line x1="392.42" y1="155.60" x2="392.42" y2="153.80" stroke="#353535" stroke-width="0.9" />
<line x1="392.42" y1="2.30" x2="392.42" y2="4.10" stroke="#353535" stroke-width="0.9" />
<line x1="400.00" y1="155.60" x2="400.00" y2="152.40" stroke="#353535" stroke-width="0.9" />
<line x1="400.00" y1="2.30" x2="400.00" y2="5.50" stroke="#353535" stroke-width="0.9" />
<line x1="407.57" y1="155.60" x2="407.57" y2="153.80" stroke="#353535" stroke-width="0.9" />
<line x1="407.57" y1="2.30" x2="407.57" y2="4.10" stroke="#353535" stroke-width="0.9" />
<line x1="415.15" y1="155.60" x2="415.15" y2="153.80" stroke="#353535" stroke-width="0.9" />
<line x1="415.15" y1="2.30" x2="415.15" y2="4.10" stroke="#353535" stroke-width="0.9" />
<line x1="422.72" y1="155.60" x2="422.72" y2="153.80" stroke="#353535" stroke-width="0.9" />
<line x1="422.72" y1="2.30" x2="422.72" y2="4.10" stroke="#353535" stroke-width="0.9" />
<line x1="430.30" y1="155.60" x2="430.30" y2="152.40" stroke="#353535" stroke-width="0.9" />
<line x1="430.30" y1="2.30" x2="430.30" y2="5.50" stroke="#353535" stroke-width="0.9" />
<line x1="437.87" y1="155.60" x2="437.87" y2="153.80" stroke="#353535" stroke-width="0.9" />
<line x1="437.87" y1="2.30" x2="437.87" y2="4.10" stroke="#353535" stroke-width="0.9" />
<line x1="445.45" y1="155.60" x2="445.45" y2="153.80" stroke="#353535" stroke-width="0.9" />
<line x1="445.45" y1="2.30" x2="445.45" y2="4.10" stroke="#353535" stroke-width="0.9" />
<line x1="453.02" y1="155.60" x2="453.02" y2="153.80" stroke="#353535" stroke-width="0.9" />
<line x1="453.02" y1="2.30" x2="453.02" y2="4.10" stroke="#353535" stroke-width="0.9" />
<line x1="460.60" y1="155.60" x2="460.60" y2="152.40" stroke="#353535" stroke-width="0.9" />
<line x1="460.60" y1="2.30" x2="460.60" y2="5.50" stroke="#353535" stroke-width="0.9" />
<line x1="468.17" y1="155.60" x2="468.17" y2="153.80" stroke="#353535" stroke-width="0.9" />
<line x1="468.17" y1="2.30" x2="468.17" y2="4.10" stroke="#353535" stroke-width="0.9" />
<line x1="258.90" y1="16.24" x2="260.40" y2="16.24" stroke="#353535" stroke-width="0.9" />
<line x1="472.30" y1="16.24" x2="470.80" y2="16.24" stroke="#353535" stroke-width="0.9" />
<line x1="258.90" y1="30.17" x2="261.30" y2="30.17" stroke="#353535" stroke-width="0.9" />
<line x1="472.30" y1="30.17" x2="469.90" y2="30.17" stroke="#353535" stroke-width="0.9" />
<line x1="258.90" y1="44.11" x2="260.40" y2="44.11" stroke="#353535" stroke-width="0.9" />
<line x1="472.30" y1="44.11" x2="470.80" y2="44.11" stroke="#353535" stroke-width="0.9" />
<line x1="258.90" y1="58.05" x2="261.30" y2="58.05" stroke="#353535" stroke-width="0.9" />
<line x1="472.30" y1="58.05" x2="469.90" y2="58.05" stroke="#353535" stroke-width="0.9" />
<line x1="258.90" y1="71.98" x2="260.40" y2="71.98" stroke="#353535" stroke-width="0.9" />
<line x1="472.30" y1="71.98" x2="470.80" y2="71.98" stroke="#353535" stroke-width="0.9" />
<line x1="258.90" y1="85.92" x2="261.30" y2="85.92" stroke="#353535" stroke-width="0.9" />
<line x1="472.30" y1="85.92" x2="469.90" y2="85.92" stroke="#353535" stroke-width="0.9" />
<line x1="258.90" y1="99.85" x2="260.40" y2="99.85" stroke="#353535" stroke-width="0.9" />
<line x1="472.30" y1="99.85" x2="470.80" y2="99.85" stroke="#353535" stroke-width="0.9" />
<line x1="258.90" y1="113.79" x2="261.30" y2="113.79" stroke="#353535" stroke-width="0.9" />
<line x1="472.30" y1="113.79" x2="469.90" y2="113.79" stroke="#353535" stroke-width="0.9" />
<line x1="258.90" y1="127.73" x2="260.40" y2="127.73" stroke="#353535" stroke-width="0.9" />
<line x1="472.30" y1="127.73" x2="470.80" y2="127.73" stroke="#353535" stroke-width="0.9" />
<line x1="258.90" y1="141.66" x2="261.30" y2="141.66" stroke="#353535" stroke-width="0.9" />
<line x1="472.30" y1="141.66" x2="469.90" y2="141.66" stroke="#353535" stroke-width="0.9" />
<line x1="50.25" y1="308.90" x2="50.25" y2="307.10" stroke="#353535" stroke-width="0.9" />
<line x1="50.25" y1="155.60" x2="50.25" y2="157.40" stroke="#353535" stroke-width="0.9" />
<line x1="57.83" y1="308.90" x2="57.83" y2="307.10" stroke="#353535" stroke-width="0.9" />
<line x1="57.83" y1="155.60" x2="57.83" y2="157.40" stroke="#353535" stroke-width="0.9" />
<line x1="65.40" y1="308.90" x2="65.40" y2="305.70" stroke="#353535" stroke-width="0.9" />
<line x1="65.40" y1="155.60" x2="65.40" y2="158.80" stroke="#353535" stroke-width="0.9" />
<line x1="72.98" y1="308.90" x2="72.98" y2="307.10" stroke="#353535" stroke-width="0.9" />
<line x1="72.98" y1="155.60" x2="72.98" y2="157.40" stroke="#353535" stroke-width="0.9" />
<line x1="80.55" y1="308.90" x2="80.55" y2="307.10" stroke="#353535" stroke-width="0.9" />
<line x1="80.55" y1="155.60" x2="80.55" y2="157.40" stroke="#353535" stroke-width="0.9" />
<line x1="88.12" y1="308.90" x2="88.12" y2="307.10" stroke="#353535" stroke-width="0.9" />
<line x1="88.12" y1="155.60" x2="88.12" y2="157.40" stroke="#353535" stroke-width="0.9" />
<line x1="95.70" y1="308.90" x2="95.70" y2="305.70" stroke="#353535" stroke-width="0.9" />
<line x1="95.70" y1="155.60" x2="95.70" y2="158.80" stroke="#353535" stroke-width="0.9" />
<line x1="103.28" y1="308.90" x2="103.28" y2="307.10" stroke="#353535" stroke-width="0.9" />
<line x1="103.28" y1="155.60" x2="103.28" y2="157.40" stroke="#353535" stroke-width="0.9" />
<line x1="110.85" y1="308.90" x2="110.85" y2="307.10" stroke="#353535" stroke-width="0.9" />
<line x1="110.85" y1="155.60" x2="110.85" y2="157.40" stroke="#353535" stroke-width="0.9" />
<line x1="118.43" y1="308.90" x2="118.43" y2="307.10" stroke="#353535" stroke-width="0.9" />
<line x1="118.43" y1="155.60" x2="118.43" y2="157.40" stroke="#353535" stroke-width="0.9" />
<line x1="126.00" y1="308.90" x2="126.00" y2="305.70" stroke="#353535" stroke-width="0.9" />
<line x1="126.00" y1="155.60" x2="126.00" y2="158.80" stroke="#353535" stroke-width="0.9" />
<line x1="133.57" y1="308.90" x2="133.57" y2="307.10" stroke="#353535" stroke-width="0.9" />
<line x1="133.57" y1="155.60" x2="133.57" y2="157.40" stroke="#353535" stroke-width="0.9" />
<line x1="141.15" y1="308.90" x2="141.15" y2="307.10" stroke="#353535" stroke-width="0.9" />
<line x1="141.15" y1="155.60" x2="141.15" y2="157.40" stroke="#353535" stroke-width="0.9" />
<line x1="148.72" y1="308.90" x2="148.72" y2="307.10" stroke="#353535" stroke-width="0.9" />
<line x1="148.72" y1="155.60" x2="148.72" y2="157.40" stroke="#353535" stroke-width="0.9" />
<line x1="156.30" y1="308.90" x2="156.30" y2="305.70" stroke="#353535" stroke-width="0.9" />
<line x1="156.30" y1="155.60" x2="156.30" y2="158.80" stroke="#353535" stroke-width="0.9" />
<line x1="163.88" y1="308.90" x2="163.88" y2="307.10" stroke="#353535" stroke-width="0.9" />
<line x1="163.88" y1="155.60" x2="163.88" y2="157.40" stroke="#353535" stroke-width="0.9" />
<line x1="171.45" y1="308.90" x2="171.45" y2="307.10" stroke="#353535" stroke-width="0.9" />
<line x1="171.45" y1="155.60" x2="171.45" y2="157.40" stroke="#353535" stroke-width="0.9" />
<line x1="179.02" y1="308.90" x2="179.02" y2="307.10" stroke="#353535" stroke-width="0.9" />
<line x1="179.02" y1="155.60" x2="179.02" y2="157.40" stroke="#353535" stroke-width="0.9" />
<line x1="186.60" y1="308.90" x2="186.60" y2="305.70" stroke="#353535" stroke-width="0.9" />
<line x1="186.60" y1="155.60" x2="186.60" y2="158.80" stroke="#353535" stroke-width="0.9" />
<line x1="194.18" y1="308.90" x2="194.18" y2="307.10" stroke="#353535" stroke-width="0.9" />
<line x1="194.18" y1="155.60" x2="194.18" y2="157.40" stroke="#353535" stroke-width="0.9" />
<line x1="201.75" y1="308.90" x2="201.75" y2="307.10" stroke="#353535" stroke-width="0.9" />
<line x1="201.75" y1="155.60" x2="201.75" y2="157.40" stroke="#353535" stroke-width="0.9" />
<line x1="209.32" y1="308.90" x2="209.32" y2="307.10" stroke="#353535" stroke-width="0.9" />
<line x1="209.32" y1="155.60" x2="209.32" y2="157.40" stroke="#353535" stroke-width="0.9" />
<line x1="216.90" y1="308.90" x2="216.90" y2="305.70" stroke="#353535" stroke-width="0.9" />
<line x1="216.90" y1="155.60" x2="216.90" y2="158.80" stroke="#353535" stroke-width="0.9" />
<line x1="224.47" y1="308.90" x2="224.47" y2="307.10" stroke="#353535" stroke-width="0.9" />
<line x1="224.47" y1="155.60" x2="224.47" y2="157.40" stroke="#353535" stroke-width="0.9" />
<line x1="232.05" y1="308.90" x2="232.05" y2="307.10" stroke="#353535" stroke-width="0.9" />
<line x1="232.05" y1="155.60" x2="232.05" y2="157.40" stroke="#353535" stroke-width="0.9" />
<line x1="239.62" y1="308.90" x2="239.62" y2="307.10" stroke="#353535" stroke-width="0.9" />
<line x1="239.62" y1="155.60" x2="239.62" y2="157.40" stroke="#353535" stroke-width="0.9" />
<line x1="247.20" y1="308.90" x2="247.20" y2="305.70" stroke="#353535" stroke-width="0.9" />
<line x1="247.20" y1="155.60" x2="247.20" y2="158.80" stroke="#353535" stroke-width="0.9" />
<line x1="254.78" y1="308.90" x2="254.78" y2="307.10" stroke="#353535" stroke-width="0.9" />
<line x1="254.78" y1="155.60" x2="254.78" y2="157.40" stroke="#353535" stroke-width="0.9" />
<line x1="45.50" y1="169.54" x2="47.00" y2="169.54" stroke="#353535" stroke-width="0.9" />
<line x1="258.90" y1="169.54" x2="257.40" y2="169.54" stroke="#353535" stroke-width="0.9" />
<line x1="45.50" y1="183.47" x2="47.90" y2="183.47" stroke="#353535" stroke-width="0.9" />
<line x1="258.90" y1="183.47" x2="256.50" y2="183.47" stroke="#353535" stroke-width="0.9" />
<line x1="45.50" y1="197.41" x2="47.00" y2="197.41" stroke="#353535" stroke-width="0.9" />
<line x1="258.90" y1="197.41" x2="257.40" y2="197.41" stroke="#353535" stroke-width="0.9" />
<line x1="45.50" y1="211.35" x2="47.90" y2="211.35" stroke="#353535" stroke-width="0.9" />
<line x1="258.90" y1="211.35" x2="256.50" y2="211.35" stroke="#353535" stroke-width="0.9" />
<line x1="45.50" y1="225.28" x2="47.00" y2="225.28" stroke="#353535" stroke-width="0.9" />
<line x1="258.90" y1="225.28" x2="257.40" y2="225.28" stroke="#353535" stroke-width="0.9" />
<line x1="45.50" y1="239.22" x2="47.90" y2="239.22" stroke="#353535" stroke-width="0.9" />
<line x1="258.90" y1="239.22" x2="256.50" y2="239.22" stroke="#353535" stroke-width="0.9" />
<line x1="45.50" y1="253.15" x2="47.00" y2="253.15" stroke="#353535" stroke-width="0.9" />
<line x1="258.90" y1="253.15" x2="257.40" y2="253.15" stroke="#353535" stroke-width="0.9" />
<line x1="45.50" y1="267.09" x2="47.90" y2="267.09" stroke="#353535" stroke-width="0.9" />
<line x1="258.90" y1="267.09" x2="256.50" y2="267.09" stroke="#353535" stroke-width="0.9" />
<line x1="45.50" y1="281.03" x2="47.00" y2="281.03" stroke="#353535" stroke-width="0.9" />
<line x1="258.90" y1="281.03" x2="257.40" y2="281.03" stroke="#353535" stroke-width="0.9" />
<line x1="45.50" y1="294.96" x2="47.90" y2="294.96" stroke="#353535" stroke-width="0.9" />
<line x1="258.90" y1="294.96" x2="256.50" y2="294.96" stroke="#353535" stroke-width="0.9" />
<line x1="263.65" y1="308.90" x2="263.65" y2="307.10" stroke="#353535" stroke-width="0.9" />
<line x1="263.65" y1="155.60" x2="263.65" y2="157.40" stroke="#353535" stroke-width="0.9" />
<line x1="271.22" y1="308.90" x2="271.22" y2="307.10" stroke="#353535" stroke-width="0.9" />
<line x1="271.22" y1="155.60" x2="271.22" y2="157.40" stroke="#353535" stroke-width="0.9" />
<line x1="278.80" y1="308.90" x2="278.80" y2="305.70" stroke="#353535" stroke-width="0.9" />
<line x1="278.80" y1="155.60" x2="278.80" y2="158.80" stroke="#353535" stroke-width="0.9" />
<line x1="286.37" y1="308.90" x2="286.37" y2="307.10" stroke="#353535" stroke-width="0.9" />
<line x1="286.37" y1="155.60" x2="286.37" y2="157.40" stroke="#353535" stroke-width="0.9" />
<line x1="293.95" y1="308.90" x2="293.95" y2="307.10" stroke="#353535" stroke-width="0.9" />
<line x1="293.95" y1="155.60" x2="293.95" y2="157.40" stroke="#353535" stroke-width="0.9" />
<line x1="301.52" y1="308.90" x2="301.52" y2="307.10" stroke="#353535" stroke-width="0.9" />
<line x1="301.52" y1="155.60" x2="301.52" y2="157.40" stroke="#353535" stroke-width="0.9" />
<line x1="309.10" y1="308.90" x2="309.10" y2="305.70" stroke="#353535" stroke-width="0.9" />
<line x1="309.10" y1="155.60" x2="309.10" y2="158.80" stroke="#353535" stroke-width="0.9" />
<line x1="316.67" y1="308.90" x2="316.67" y2="307.10" stroke="#353535" stroke-width="0.9" />
<line x1="316.67" y1="155.60" x2="316.67" y2="157.40" stroke="#353535" stroke-width="0.9" />
<line x1="324.25" y1="308.90" x2="324.25" y2="307.10" stroke="#353535" stroke-width="0.9" />
<line x1="324.25" y1="155.60" x2="324.25" y2="157.40" stroke="#353535" stroke-width="0.9" />
<line x1="331.82" y1="308.90" x2="331.82" y2="307.10" stroke="#353535" stroke-width="0.9" />
<line x1="331.82" y1="155.60" x2="331.82" y2="157.40" stroke="#353535" stroke-width="0.9" />
<line x1="339.40" y1="308.90" x2="339.40" y2="305.70" stroke="#353535" stroke-width="0.9" />
<line x1="339.40" y1="155.60" x2="339.40" y2="158.80" stroke="#353535" stroke-width="0.9" />
<line x1="346.97" y1="308.90" x2="346.97" y2="307.10" stroke="#353535" stroke-width="0.9" />
<line x1="346.97" y1="155.60" x2="346.97" y2="157.40" stroke="#353535" stroke-width="0.9" />
<line x1="354.55" y1="308.90" x2="354.55" y2="307.10" stroke="#353535" stroke-width="0.9" />
<line x1="354.55" y1="155.60" x2="354.55" y2="157.40" stroke="#353535" stroke-width="0.9" />
<line x1="362.12" y1="308.90" x2="362.12" y2="307.10" stroke="#353535" stroke-width="0.9" />
<line x1="362.12" y1="155.60" x2="362.12" y2="157.40" stroke="#353535" stroke-width="0.9" />
<line x1="369.70" y1="308.90" x2="369.70" y2="305.70" stroke="#353535" stroke-width="0.9" />
<line x1="369.70" y1="155.60" x2="369.70" y2="158.80" stroke="#353535" stroke-width="0.9" />
<line x1="377.27" y1="308.90" x2="377.27" y2="307.10" stroke="#353535" stroke-width="0.9" />
<line x1="377.27" y1="155.60" x2="377.27" y2="157.40" stroke="#353535" stroke-width="0.9" />
<line x1="384.85" y1="308.90" x2="384.85" y2="307.10" stroke="#353535" stroke-width="0.9" />
<line x1="384.85" y1="155.60" x2="384.85" y2="157.40" stroke="#353535" stroke-width="0.9" />
<line x1="392.42" y1="308.90" x2="392.42" y2="307.10" stroke="#353535" stroke-width="0.9" />
<line x1="392.42" y1="155.60" x2="392.42" y2="157.40" stroke="#353535" stroke-width="0.9" />
<line x1="400.00" y1="308.90" x2="400.00" y2="305.70" stroke="#353535" stroke-width="0.9" />
<line x1="400.00" y1="155.60" x2="400.00" y2="158.80" stroke="#353535" stroke-width="0.9" />
<line x1="407.57" y1="308.90" x2="407.57" y2="307.10" stroke="#353535" stroke-width="0.9" />
<line x1="407.57" y1="155.60" x2="407.57" y2="157.40" stroke="#353535" stroke-width="0.9" />
<line x1="415.15" y1="308.90" x2="415.15" y2="307.10" stroke="#353535" stroke-width="0.9" />
<line x1="415.15" y1="155.60" x2="415.15" y2="157.40" stroke="#353535" stroke-width="0.9" />
<line x1="422.72" y1="308.90" x2="422.72" y2="307.10" stroke="#353535" stroke-width="0.9" />
<line x1="422.72" y1="155.60" x2="422.72" y2="157.40" stroke="#353535" stroke-width="0.9" />
<line x1="430.30" y1="308.90" x2="430.30" y2="305.70" stroke="#353535" stroke-width="0.9" />
<line x1="430.30" y1="155.60" x2="430.30" y2="158.80" stroke="#353535" stroke-width="0.9" />
<line x1="437.87" y1="308.90" x2="437.87" y2="307.10" stroke="#353535" stroke-width="0.9" />
<line x1="437.87" y1="155.60" x2="437.87" y2="157.40" stroke="#353535" stroke-width="0.9" />
<line x1="445.45" y1="308.90" x2="445.45" y2="307.10" stroke="#353535" stroke-width="0.9" />
<line x1="445.45" y1="155.60" x2="445.45" y2="157.40" stroke="#353535" stroke-width="0.9" />
<line x1="453.02" y1="308.90" x2="453.02" y2="307.10" stroke="#353535" stroke-width="0.9" />
<line x1="453.02" y1="155.60" x2="453.02" y2="157.40" stroke="#353535" stroke-width="0.9" />
<line x1="460.60" y1="308.90" x2="460.60" y2="305.70" stroke="#353535" stroke-width="0.9" />
<line x1="460.60" y1="155.60" x2="460.60" y2="158.80" stroke="#353535" stroke-width="0.9" />
<line x1="468.17" y1="308.90" x2="468.17" y2="307.10" stroke="#353535" stroke-width="0.9" />
<line x1="468.17" y1="155.60" x2="468.17" y2="157.40" stroke="#353535" stroke-width="0.9" />
<line x1="258.90" y1="169.54" x2="260.40" y2="169.54" stroke="#353535" stroke-width="0.9" />
<line x1="472.30" y1="169.54" x2="470.80" y2="169.54" stroke="#353535" stroke-width="0.9" />
<line x1="258.90" y1="183.47" x2="261.30" y2="183.47" stroke="#353535" stroke-width="0.9" />
<line x1="472.30" y1="183.47" x2="469.90" y2="183.47" stroke="#353535" stroke-width="0.9" />
<line x1="258.90" y1="197.41" x2="260.40" y2="197.41" stroke="#353535" stroke-width="0.9" />
<line x1="472.30" y1="197.41" x2="470.80" y2="197.41" stroke="#353535" stroke-width="0.9" />
<line x1="258.90" y1="211.35" x2="261.30" y2="211.35" stroke="#353535" stroke-width="0.9" />
<line x1="472.30" y1="211.35" x2="469.90" y2="211.35" stroke="#353535" stroke-width="0.9" />
<line x1="258.90" y1="225.28" x2="260.40" y2="225.28" stroke="#353535" stroke-width="0.9" />
<line x1="472.30" y1="225.28" x2="470.80" y2="225.28" stroke="#353535" stroke-width="0.9" />
<line x1="258.90" y1="239.22" x2="261.30" y2="239.22" stroke="#353535" stroke-width="0.9" />
<line x1="472.30" y1="239.22" x2="469.90" y2="239.22" stroke="#353535" stroke-width="0.9" />
<line x1="258.90" y1="253.15" x2="260.40" y2="253.15" stroke="#353535" stroke-width="0.9" />
<line x1="472.30" y1="253.15" x2="470.80" y2="253.15" stroke="#353535" stroke-width="0.9" />
<line x1="258.90" y1="267.09" x2="261.30" y2="267.09" stroke="#353535" stroke-width="0.9" />
<line x1="472.30" y1="267.09" x2="469.90" y2="267.09" stroke="#353535" stroke-width="0.9" />
<line x1="258.90" y1="281.03" x2="260.40" y2="281.03" stroke="#353535" stroke-width="0.9" />
<line x1="472.30" y1="281.03" x2="470.80" y2="281.03" stroke="#353535" stroke-width="0.9" />
<line x1="258.90" y1="294.96" x2="261.30" y2="294.96" stroke="#353535" stroke-width="0.9" />
<line x1="472.30" y1="294.96" x2="469.90" y2="294.96" stroke="#353535" stroke-width="0.9" />
<line x1="50.25" y1="462.20" x2="50.25" y2="460.40" stroke="#353535" stroke-width="0.9" />
<line x1="50.25" y1="308.90" x2="50.25" y2="310.70" stroke="#353535" stroke-width="0.9" />
<line x1="57.83" y1="462.20" x2="57.83" y2="460.40" stroke="#353535" stroke-width="0.9" />
<line x1="57.83" y1="308.90" x2="57.83" y2="310.70" stroke="#353535" stroke-width="0.9" />
<line x1="65.40" y1="462.20" x2="65.40" y2="459.00" stroke="#353535" stroke-width="0.9" />
<line x1="65.40" y1="308.90" x2="65.40" y2="312.10" stroke="#353535" stroke-width="0.9" />
<line x1="72.98" y1="462.20" x2="72.98" y2="460.40" stroke="#353535" stroke-width="0.9" />
<line x1="72.98" y1="308.90" x2="72.98" y2="310.70" stroke="#353535" stroke-width="0.9" />
<line x1="80.55" y1="462.20" x2="80.55" y2="460.40" stroke="#353535" stroke-width="0.9" />
<line x1="80.55" y1="308.90" x2="80.55" y2="310.70" stroke="#353535" stroke-width="0.9" />
<line x1="88.12" y1="462.20" x2="88.12" y2="460.40" stroke="#353535" stroke-width="0.9" />
<line x1="88.12" y1="308.90" x2="88.12" y2="310.70" stroke="#353535" stroke-width="0.9" />
<line x1="95.70" y1="462.20" x2="95.70" y2="459.00" stroke="#353535" stroke-width="0.9" />
<line x1="95.70" y1="308.90" x2="95.70" y2="312.10" stroke="#353535" stroke-width="0.9" />
<line x1="103.28" y1="462.20" x2="103.28" y2="460.40" stroke="#353535" stroke-width="0.9" />
<line x1="103.28" y1="308.90" x2="103.28" y2="310.70" stroke="#353535" stroke-width="0.9" />
<line x1="110.85" y1="462.20" x2="110.85" y2="460.40" stroke="#353535" stroke-width="0.9" />
<line x1="110.85" y1="308.90" x2="110.85" y2="310.70" stroke="#353535" stroke-width="0.9" />
<line x1="118.43" y1="462.20" x2="118.43" y2="460.40" stroke="#353535" stroke-width="0.9" />
<line x1="118.43" y1="308.90" x2="118.43" y2="310.70" stroke="#353535" stroke-width="0.9" />
<line x1="126.00" y1="462.20" x2="126.00" y2="459.00" stroke="#353535" stroke-width="0.9" />
<line x1="126.00" y1="308.90" x2="126.00" y2="312.10" stroke="#353535" stroke-width="0.9" />
<line x1="133.57" y1="462.20" x2="133.57" y2="460.40" stroke="#353535" stroke-width="0.9" />
<line x1="133.57" y1="308.90" x2="133.57" y2="310.70" stroke="#353535" stroke-width="0.9" />
<line x1="141.15" y1="462.20" x2="141.15" y2="460.40" stroke="#353535" stroke-width="0.9" />
<line x1="141.15" y1="308.90" x2="141.15" y2="310.70" stroke="#353535" stroke-width="0.9" />
<line x1="148.72" y1="462.20" x2="148.72" y2="460.40" stroke="#353535" stroke-width="0.9" />
<line x1="148.72" y1="308.90" x2="148.72" y2="310.70" stroke="#353535" stroke-width="0.9" />
<line x1="156.30" y1="462.20" x2="156.30" y2="459.00" stroke="#353535" stroke-width="0.9" />
<line x1="156.30" y1="308.90" x2="156.30" y2="312.10" stroke="#353535" stroke-width="0.9" />
<line x1="163.88" y1="462.20" x2="163.88" y2="460.40" stroke="#353535" stroke-width="0.9" />
<line x1="163.88" y1="308.90" x2="163.88" y2="310.70" stroke="#353535" stroke-width="0.9" />
<line x1="171.45" y1="462.20" x2="171.45" y2="460.40" stroke="#353535" stroke-width="0.9" />
<line x1="171.45" y1="308.90" x2="171.45" y2="310.70" stroke="#353535" stroke-width="0.9" />
<line x1="179.02" y1="462.20" x2="179.02" y2="460.40" stroke="#353535" stroke-width="0.9" />
<line x1="179.02" y1="308.90" x2="179.02" y2="310.70" stroke="#353535" stroke-width="0.9" />
<line x1="186.60" y1="462.20" x2="186.60" y2="459.00" stroke="#353535" stroke-width="0.9" />
<line x1="186.60" y1="308.90" x2="186.60" y2="312.10" stroke="#353535" stroke-width="0.9" />
<line x1="194.18" y1="462.20" x2="194.18" y2="460.40" stroke="#353535" stroke-width="0.9" />
<line x1="194.18" y1="308.90" x2="194.18" y2="310.70" stroke="#353535" stroke-width="0.9" />
<line x1="201.75" y1="462.20" x2="201.75" y2="460.40" stroke="#353535" stroke-width="0.9" />
<line x1="201.75" y1="308.90" x2="201.75" y2="310.70" stroke="#353535" stroke-width="0.9" />
<line x1="209.32" y1="462.20" x2="209.32" y2="460.40" stroke="#353535" stroke-width="0.9" />
<line x1="209.32" y1="308.90" x2="209.32" y2="310.70" stroke="#353535" stroke-width="0.9" />
<line x1="216.90" y1="462.20" x2="216.90" y2="459.00" stroke="#353535" stroke-width="0.9" />
<line x1="216.90" y1="308.90" x2="216.90" y2="312.10" stroke="#353535" stroke-width="0.9" />
<line x1="224.47" y1="462.20" x2="224.47" y2="460.40" stroke="#353535" stroke-width="0.9" />
<line x1="224.47" y1="308.90" x2="224.47" y2="310.70" stroke="#353535" stroke-width="0.9" />
<line x1="232.05" y1="462.20" x2="232.05" y2="460.40" stroke="#353535" stroke-width="0.9" />
<line x1="232.05" y1="308.90" x2="232.05" y2="310.70" stroke="#353535" stroke-width="0.9" />
<line x1="239.62" y1="462.20" x2="239.62" y2="460.40" stroke="#353535" stroke-width="0.9" />
<line x1="239.62" y1="308.90" x2="239.62" y2="310.70" stroke="#353535" stroke-width="0.9" />
<line x1="247.20" y1="462.20" x2="247.20" y2="459.00" stroke="#353535" stroke-width="0.9" />
<line x1="247.20" y1="308.90" x2="247.20" y2="312.10" stroke="#353535" stroke-width="0.9" />
<line x1="254.78" y1="462.20" x2="254.78" y2="460.40" stroke="#353535" stroke-width="0.9" />
<line x1="254.78" y1="308.90" x2="254.78" y2="310.70" stroke="#353535" stroke-width="0.9" />
<line x1="45.50" y1="322.84" x2="47.00" y2="322.84" stroke="#353535" stroke-width="0.9" />
<line x1="258.90" y1="322.84" x2="257.40" y2="322.84" stroke="#353535" stroke-width="0.9" />
<line x1="45.50" y1="336.77" x2="47.90" y2="336.77" stroke="#353535" stroke-width="0.9" />
<line x1="258.90" y1="336.77" x2="256.50" y2="336.77" stroke="#353535" stroke-width="0.9" />
<line x1="45.50" y1="350.71" x2="47.00" y2="350.71" stroke="#353535" stroke-width="0.9" />
<line x1="258.90" y1="350.71" x2="257.40" y2="350.71" stroke="#353535" stroke-width="0.9" />
<line x1="45.50" y1="364.65" x2="47.90" y2="364.65" stroke="#353535" stroke-width="0.9" />
<line x1="258.90" y1="364.65" x2="256.50" y2="364.65" stroke="#353535" stroke-width="0.9" />
<line x1="45.50" y1="378.58" x2="47.00" y2="378.58" stroke="#353535" stroke-width="0.9" />
<line x1="258.90" y1="378.58" x2="257.40" y2="378.58" stroke="#353535" stroke-width="0.9" />
<line x1="45.50" y1="392.52" x2="47.90" y2="392.52" stroke="#353535" stroke-width="0.9" />
<line x1="258.90" y1="392.52" x2="256.50" y2="392.52" stroke="#353535" stroke-width="0.9" />
<line x1="45.50" y1="406.45" x2="47.00" y2="406.45" stroke="#353535" stroke-width="0.9" />
<line x1="258.90" y1="406.45" x2="257.40" y2="406.45" stroke="#353535" stroke-width="0.9" />
<line x1="45.50" y1="420.39" x2="47.90" y2="420.39" stroke="#353535" stroke-width="0.9" />
<line x1="258.90" y1="420.39" x2="256.50" y2="420.39" stroke="#353535" stroke-width="0.9" />
<line x1="45.50" y1="434.33" x2="47.00" y2="434.33" stroke="#353535" stroke-width="0.9" />
<line x1="258.90" y1="434.33" x2="257.40" y2="434.33" stroke="#353535" stroke-width="0.9" />
<line x1="45.50" y1="448.26" x2="47.90" y2="448.26" stroke="#353535" stroke-width="0.9" />
<line x1="258.90" y1="448.26" x2="256.50" y2="448.26" stroke="#353535" stroke-width="0.9" />
<line x1="263.65" y1="462.20" x2="263.65" y2="460.40" stroke="#353535" stroke-width="0.9" />
<line x1="263.65" y1="308.90" x2="263.65" y2="310.70" stroke="#353535" stroke-width="0.9" />
<line x1="271.22" y1="462.20" x2="271.22" y2="460.40" stroke="#353535" stroke-width="0.9" />
<line x1="271.22" y1="308.90" x2="271.22" y2="310.70" stroke="#353535" stroke-width="0.9" />
<line x1="278.80" y1="462.20" x2="278.80" y2="459.00" stroke="#353535" stroke-width="0.9" />
<line x1="278.80" y1="308.90" x2="278.80" y2="312.10" stroke="#353535" stroke-width="0.9" />
<line x1="286.37" y1="462.20" x2="286.37" y2="460.40" stroke="#353535" stroke-width="0.9" />
<line x1="286.37" y1="308.90" x2="286.37" y2="310.70" stroke="#353535" stroke-width="0.9" />
<line x1="293.95" y1="462.20" x2="293.95" y2="460.40" stroke="#353535" stroke-width="0.9" />
<line x1="293.95" y1="308.90" x2="293.95" y2="310.70" stroke="#353535" stroke-width="0.9" />
<line x1="301.52" y1="462.20" x2="301.52" y2="460.40" stroke="#353535" stroke-width="0.9" />
<line x1="301.52" y1="308.90" x2="301.52" y2="310.70" stroke="#353535" stroke-width="0.9" />
<line x1="309.10" y1="462.20" x2="309.10" y2="459.00" stroke="#353535" stroke-width="0.9" />
<line x1="309.10" y1="308.90" x2="309.10" y2="312.10" stroke="#353535" stroke-width="0.9" />
<line x1="316.67" y1="462.20" x2="316.67" y2="460.40" stroke="#353535" stroke-width="0.9" />
<line x1="316.67" y1="308.90" x2="316.67" y2="310.70" stroke="#353535" stroke-width="0.9" />
<line x1="324.25" y1="462.20" x2="324.25" y2="460.40" stroke="#353535" stroke-width="0.9" />
<line x1="324.25" y1="308.90" x2="324.25" y2="310.70" stroke="#353535" stroke-width="0.9" />
<line x1="331.82" y1="462.20" x2="331.82" y2="460.40" stroke="#353535" stroke-width="0.9" />
<line x1="331.82" y1="308.90" x2="331.82" y2="310.70" stroke="#353535" stroke-width="0.9" />
<line x1="339.40" y1="462.20" x2="339.40" y2="459.00" stroke="#353535" stroke-width="0.9" />
<line x1="339.40" y1="308.90" x2="339.40" y2="312.10" stroke="#353535" stroke-width="0.9" />
<line x1="346.97" y1="462.20" x2="346.97" y2="460.40" stroke="#353535" stroke-width="0.9" />
<line x1="346.97" y1="308.90" x2="346.97" y2="310.70" stroke="#353535" stroke-width="0.9" />
<line x1="354.55" y1="462.20" x2="354.55" y2="460.40" stroke="#353535" stroke-width="0.9" />
<line x1="354.55" y1="308.90" x2="354.55" y2="310.70" stroke="#353535" stroke-width="0.9" />
<line x1="362.12" y1="462.20" x2="362.12" y2="460.40" stroke="#353535" stroke-width="0.9" />
<line x1="362.12" y1="308.90" x2="362.12" y2="310.70" stroke="#353535" stroke-width="0.9" />
<line x1="369.70" y1="462.20" x2="369.70" y2="459.00" stroke="#353535" stroke-width="0.9" />
<line x1="369.70" y1="308.90" x2="369.70" y2="312.10" stroke="#353535" stroke-width="0.9" />
<line x1="377.27" y1="462.20" x2="377.27" y2="460.40" stroke="#353535" stroke-width="0.9" />
<line x1="377.27" y1="308.90" x2="377.27" y2="310.70" stroke="#353535" stroke-width="0.9" />
<line x1="384.85" y1="462.20" x2="384.85" y2="460.40" stroke="#353535" stroke-width="0.9" />
<line x1="384.85" y1="308.90" x2="384.85" y2="310.70" stroke="#353535" stroke-width="0.9" />
<line x1="392.42" y1="462.20" x2="392.42" y2="460.40" stroke="#353535" stroke-width="0.9" />
<line x1="392.42" y1="308.90" x2="392.42" y2="310.70" stroke="#353535" stroke-width="0.9" />
<line x1="400.00" y1="462.20" x2="400.00" y2="459.00" stroke="#353535" stroke-width="0.9" />
<line x1="400.00" y1="308.90" x2="400.00" y2="312.10" stroke="#353535" stroke-width="0.9" />
<line x1="407.57" y1="462.20" x2="407.57" y2="460.40" stroke="#353535" stroke-width="0.9" />
<line x1="407.57" y1="308.90" x2="407.57" y2="310.70" stroke="#353535" stroke-width="0.9" />
<line x1="415.15" y1="462.20" x2="415.15" y2="460.40" stroke="#353535" stroke-width="0.9" />
<line x1="415.15" y1="308.90" x2="415.15" y2="310.70" stroke="#353535" stroke-width="0.9" />
<line x1="422.72" y1="462.20" x2="422.72" y2="460.40" stroke="#353535" stroke-width="0.9" />
<line x1="422.72" y1="308.90" x2="422.72" y2="310.70" stroke="#353535" stroke-width="0.9" />
<line x1="430.30" y1="462.20" x2="430.30" y2="459.00" stroke="#353535" stroke-width="0.9" />
<line x1="430.30" y1="308.90" x2="430.30" y2="312.10" stroke="#353535" stroke-width="0.9" />
<line x1="437.87" y1="462.20" x2="437.87" y2="460.40" stroke="#353535" stroke-width="0.9" />
<line x1="437.87" y1="308.90" x2="437.87" y2="310.70" stroke="#353535" stroke-width="0.9" />
<line x1="445.45" y1="462.20" x2="445.45" y2="460.40" stroke="#353535" stroke-width="0.9" />
<line x1="445.45" y1="308.90" x2="445.45" y2="310.70" stroke="#353535" stroke-width="0.9" />
<line x1="453.02" y1="462.20" x2="453.02" y2="460.40" stroke="#353535" stroke-width="0.9" />
<line x1="453.02" y1="308.90" x2="453.02" y2="310.70" stroke="#353535" stroke-width="0.9" />
<line x1="460.60" y1="462.20" x2="460.60" y2="459.00" stroke="#353535" stroke-width="0.9" />
<line x1="460.60" y1="308.90" x2="460.60" y2="312.10" stroke="#353535" stroke-width="0.9" />
<line x1="468.17" y1="462.20" x2="468.17" y2="460.40" stroke="#353535" stroke-width="0.9" />
<line x1="468.17" y1="308.90" x2="468.17" y2="310.70" stroke="#353535" stroke-width="0.9" />
<line x1="258.90" y1="322.84" x2="260.40" y2="322.84" stroke="#353535" stroke-width="0.9" />
<line x1="472.30" y1="322.84" x2="470.80" y2="322.84" stroke="#353535" stroke-width="0.9" />
<line x1="258.90" y1="336.77" x2="261.30" y2="336.77" stroke="#353535" stroke-width="0.9" />
<line x1="472.30" y1="336.77" x2="469.90" y2="336.77" stroke="#353535" stroke-width="0.9" />
<line x1="258.90" y1="350.71" x2="260.40" y2="350.71" stroke="#353535" stroke-width="0.9" />
<line x1="472.30" y1="350.71" x2="470.80" y2="350.71" stroke="#353535" stroke-width="0.9" />
<line x1="258.90" y1="364.65" x2="261.30" y2="364.65" stroke="#353535" stroke-width="0.9" />
<line x1="472.30" y1="364.65" x2="469.90" y2="364.65" stroke="#353535" stroke-width="0.9" />
<line x1="258.90" y1="378.58" x2="260.40" y2="378.58" stroke="#353535" stroke-width="0.9" />
<line x1="472.30" y1="378.58" x2="470.80" y2="378.58" stroke="#353535" stroke-width="0.9" />
<line x1="258.90" y1="392.52" x2="261.30" y2="392.52" stroke="#353535" stroke-width="0.9" />
<line x1="472.30" y1="392.52" x2="469.90" y2="392.52" stroke="#353535" stroke-width="0.9" />
<line x1="258.90" y1="406.45" x2="260.40" y2="406.45" stroke="#353535" stroke-width="0.9" />
<line x1="472.30" y1="406.45" x2="470.80" y2="406.45" stroke="#353535" stroke-width="0.9" />
<line x1="258.90" y1="420.39" x2="261.30" y2="420.39" stroke="#353535" stroke-width="0.9" />
<line x1="472.30" y1="420.39" x2="469.90" y2="420.39" stroke="#353535" stroke-width="0.9" />
<line x1="258.90" y1="434.33" x2="260.40" y2="434.33" stroke="#353535" stroke-width="0.9" />
<line x1="472.30" y1="434.33" x2="470.80" y2="434.33" stroke="#353535" stroke-width="0.9" />
<line x1="258.90" y1="448.26" x2="261.30" y2="448.26" stroke="#353535" stroke-width="0.9" />
<line x1="472.30" y1="448.26" x2="469.90" y2="448.26" stroke="#353535" stroke-width="0.9" />
<line x1="51.42" y1="615.50" x2="51.42" y2="613.70" stroke="#353535" stroke-width="0.9" />
<line x1="51.42" y1="462.20" x2="51.42" y2="464.00" stroke="#353535" stroke-width="0.9" />
<line x1="59.11" y1="615.50" x2="59.11" y2="613.70" stroke="#353535" stroke-width="0.9" />
<line x1="59.11" y1="462.20" x2="59.11" y2="464.00" stroke="#353535" stroke-width="0.9" />
<line x1="66.80" y1="615.50" x2="66.80" y2="612.30" stroke="#353535" stroke-width="0.9" />
<line x1="66.80" y1="462.20" x2="66.80" y2="465.40" stroke="#353535" stroke-width="0.9" />
<line x1="74.49" y1="615.50" x2="74.49" y2="613.70" stroke="#353535" stroke-width="0.9" />
<line x1="74.49" y1="462.20" x2="74.49" y2="464.00" stroke="#353535" stroke-width="0.9" />
<line x1="82.18" y1="615.50" x2="82.18" y2="613.70" stroke="#353535" stroke-width="0.9" />
<line x1="82.18" y1="462.20" x2="82.18" y2="464.00" stroke="#353535" stroke-width="0.9" />
<line x1="89.87" y1="615.50" x2="89.87" y2="613.70" stroke="#353535" stroke-width="0.9" />
<line x1="89.87" y1="462.20" x2="89.87" y2="464.00" stroke="#353535" stroke-width="0.9" />
<line x1="97.56" y1="615.50" x2="97.56" y2="612.30" stroke="#353535" stroke-width="0.9" />
<line x1="97.56" y1="462.20" x2="97.56" y2="465.40" stroke="#353535" stroke-width="0.9" />
<line x1="105.25" y1="615.50" x2="105.25" y2="613.70" stroke="#353535" stroke-width="0.9" />
<line x1="105.25" y1="462.20" x2="105.25" y2="464.00" stroke="#353535" stroke-width="0.9" />
<line x1="112.94" y1="615.50" x2="112.94" y2="613.70" stroke="#353535" stroke-width="0.9" />
<line x1="112.94" y1="462.20" x2="112.94" y2="464.00" stroke="#353535" stroke-width="0.9" />
<line x1="120.63" y1="615.50" x2="120.63" y2="613.70" stroke="#353535" stroke-width="0.9" />
<line x1="120.63" y1="462.20" x2="120.63" y2="464.00" stroke="#353535" stroke-width="0.9" />
<line x1="128.32" y1="615.50" x2="128.32" y2="612.30" stroke="#353535" stroke-width="0.9" />
<line x1="128.32" y1="462.20" x2="128.32" y2="465.40" stroke="#353535" stroke-width="0.9" />
<line x1="136.01" y1="615.50" x2="136.01" y2="613.70" stroke="#353535" stroke-width="0.9" />
<line x1="136.01" y1="462.20" x2="136.01" y2="464.00" stroke="#353535" stroke-width="0.9" />
<line x1="143.70" y1="615.50" x2="143.70" y2="613.70" stroke="#353535" stroke-width="0.9" />
<line x1="143.70" y1="462.20" x2="143.70" y2="464.00" stroke="#353535" stroke-width="0.9" />
<line x1="151.39" y1="615.50" x2="151.39" y2="613.70" stroke="#353535" stroke-width="0.9" />
<line x1="151.39" y1="462.20" x2="151.39" y2="464.00" stroke="#353535" stroke-width="0.9" />
<line x1="159.08" y1="615.50" x2="159.08" y2="612.30" stroke="#353535" stroke-width="0.9" />
<line x1="159.08" y1="462.20" x2="159.08" y2="465.40" stroke="#353535" stroke-width="0.9" />
<line x1="166.77" y1="615.50" x2="166.77" y2="613.70" stroke="#353535" stroke-width="0.9" />
<line x1="166.77" y1="462.20" x2="166.77" y2="464.00" stroke="#353535" stroke-width="0.9" />
<line x1="174.46" y1="615.50" x2="174.46" y2="613.70" stroke="#353535" stroke-width="0.9" />
<line x1="174.46" y1="462.20" x2="174.46" y2="464.00" stroke="#353535" stroke-width="0.9" />
<line x1="182.15" y1="615.50" x2="182.15" y2="613.70" stroke="#353535" stroke-width="0.9" />
<line x1="182.15" y1="462.20" x2="182.15" y2="464.00" stroke="#353535" stroke-width="0.9" />
<line x1="189.84" y1="615.50" x2="189.84" y2="612.30" stroke="#353535" stroke-width="0.9" />
<line x1="189.84" y1="462.20" x2="189.84" y2="465.40" stroke="#353535" stroke-width="0.9" />
<line x1="197.53" y1="615.50" x2="197.53" y2="613.70" stroke="#353535" stroke-width="0.9" />
<line x1="197.53" y1="462.20" x2="197.53" y2="464.00" stroke="#353535" stroke-width="0.9" />
<line x1="205.22" y1="615.50" x2="205.22" y2="613.70" stroke="#353535" stroke-width="0.9" />
<line x1="205.22" y1="462.20" x2="205.22" y2="464.00" stroke="#353535" stroke-width="0.9" />
<line x1="212.91" y1="615.50" x2="212.91" y2="613.70" stroke="#353535" stroke-width="0.9" />
<line x1="212.91" y1="462.20" x2="212.91" y2="464.00" stroke="#353535" stroke-width="0.9" />
<line x1="220.60" y1="615.50" x2="220.60" y2="612.30" stroke="#353535" stroke-width="0.9" />
<line x1="220.60" y1="462.20" x2="220.60" y2="465.40" stroke="#353535" stroke-width="0.9" />
<line x1="228.29" y1="615.50" x2="228.29" y2="613.70" stroke="#353535" stroke-width="0.9" />
<line x1="228.29" y1="462.20" x2="228.29" y2="464.00" stroke="#353535" stroke-width="0.9" />
<line x1="235.98" y1="615.50" x2="235.98" y2="613.70" stroke="#353535" stroke-width="0.9" />
<line x1="235.98" y1="462.20" x2="235.98" y2="464.00" stroke="#353535" stroke-width="0.9" />
<line x1="243.67" y1="615.50" x2="243.67" y2="613.70" stroke="#353535" stroke-width="0.9" />
<line x1="243.67" y1="462.20" x2="243.67" y2="464.00" stroke="#353535" stroke-width="0.9" />
<line x1="251.36" y1="615.50" x2="251.36" y2="612.30" stroke="#353535" stroke-width="0.9" />
<line x1="251.36" y1="462.20" x2="251.36" y2="465.40" stroke="#353535" stroke-width="0.9" />
<line x1="45.50" y1="476.14" x2="47.00" y2="476.14" stroke="#353535" stroke-width="0.9" />
<line x1="258.90" y1="476.14" x2="257.40" y2="476.14" stroke="#353535" stroke-width="0.9" />
<line x1="45.50" y1="490.07" x2="47.90" y2="490.07" stroke="#353535" stroke-width="0.9" />
<line x1="258.90" y1="490.07" x2="256.50" y2="490.07" stroke="#353535" stroke-width="0.9" />
<line x1="45.50" y1="504.01" x2="47.00" y2="504.01" stroke="#353535" stroke-width="0.9" />
<line x1="258.90" y1="504.01" x2="257.40" y2="504.01" stroke="#353535" stroke-width="0.9" />
<line x1="45.50" y1="517.95" x2="47.90" y2="517.95" stroke="#353535" stroke-width="0.9" />
<line x1="258.90" y1="517.95" x2="256.50" y2="517.95" stroke="#353535" stroke-width="0.9" />
<line x1="45.50" y1="531.88" x2="47.00" y2="531.88" stroke="#353535" stroke-width="0.9" />
<line x1="258.90" y1="531.88" x2="257.40" y2="531.88" stroke="#353535" stroke-width="0.9" />
<line x1="45.50" y1="545.82" x2="47.90" y2="545.82" stroke="#353535" stroke-width="0.9" />
<line x1="258.90" y1="545.82" x2="256.50" y2="545.82" stroke="#353535" stroke-width="0.9" />
<line x1="45.50" y1="559.75" x2="47.00" y2="559.75" stroke="#353535" stroke-width="0.9" />
<line x1="258.90" y1="559.75" x2="257.40" y2="559.75" stroke="#353535" stroke-width="0.9" />
<line x1="45.50" y1="573.69" x2="47.90" y2="573.69" stroke="#353535" stroke-width="0.9" />
<line x1="258.90" y1="573.69" x2="256.50" y2="573.69" stroke="#353535" stroke-width="0.9" />
<line x1="45.50" y1="587.63" x2="47.00" y2="587.63" stroke="#353535" stroke-width="0.9" />
<line x1="258.90" y1="587.63" x2="257.40" y2="587.63" stroke="#353535" stroke-width="0.9" />
<line x1="45.50" y1="601.56" x2="47.90" y2="601.56" stroke="#353535" stroke-width="0.9" />
<line x1="258.90" y1="601.56" x2="256.50" y2="601.56" stroke="#353535" stroke-width="0.9" />
<line x1="264.82" y1="615.50" x2="264.82" y2="613.70" stroke="#353535" stroke-width="0.9" />
<line x1="264.82" y1="462.20" x2="264.82" y2="464.00" stroke="#353535" stroke-width="0.9" />
<line x1="272.51" y1="615.50" x2="272.51" y2="613.70" stroke="#353535" stroke-width="0.9" />
<line x1="272.51" y1="462.20" x2="272.51" y2="464.00" stroke="#353535" stroke-width="0.9" />
<line x1="280.20" y1="615.50" x2="280.20" y2="612.30" stroke="#353535" stroke-width="0.9" />
<line x1="280.20" y1="462.20" x2="280.20" y2="465.40" stroke="#353535" stroke-width="0.9" />
<line x1="287.89" y1="615.50" x2="287.89" y2="613.70" stroke="#353535" stroke-width="0.9" />
<line x1="287.89" y1="462.20" x2="287.89" y2="464.00" stroke="#353535" stroke-width="0.9" />
<line x1="295.58" y1="615.50" x2="295.58" y2="613.70" stroke="#353535" stroke-width="0.9" />
<line x1="295.58" y1="462.20" x2="295.58" y2="464.00" stroke="#353535" stroke-width="0.9" />
<line x1="303.27" y1="615.50" x2="303.27" y2="613.70" stroke="#353535" stroke-width="0.9" />
<line x1="303.27" y1="462.20" x2="303.27" y2="464.00" stroke="#353535" stroke-width="0.9" />
<line x1="310.96" y1="615.50" x2="310.96" y2="612.30" stroke="#353535" stroke-width="0.9" />
<line x1="310.96" y1="462.20" x2="310.96" y2="465.40" stroke="#353535" stroke-width="0.9" />
<line x1="318.65" y1="615.50" x2="318.65" y2="613.70" stroke="#353535" stroke-width="0.9" />
<line x1="318.65" y1="462.20" x2="318.65" y2="464.00" stroke="#353535" stroke-width="0.9" />
<line x1="326.34" y1="615.50" x2="326.34" y2="613.70" stroke="#353535" stroke-width="0.9" />
<line x1="326.34" y1="462.20" x2="326.34" y2="464.00" stroke="#353535" stroke-width="0.9" />
<line x1="334.03" y1="615.50" x2="334.03" y2="613.70" stroke="#353535" stroke-width="0.9" />
<line x1="334.03" y1="462.20" x2="334.03" y2="464.00" stroke="#353535" stroke-width="0.9" />
<line x1="341.72" y1="615.50" x2="341.72" y2="612.30" stroke="#353535" stroke-width="0.9" />
<line x1="341.72" y1="462.20" x2="341.72" y2="465.40" stroke="#353535" stroke-width="0.9" />
<line x1="349.41" y1="615.50" x2="349.41" y2="613.70" stroke="#353535" stroke-width="0.9" />
<line x1="349.41" y1="462.20" x2="349.41" y2="464.00" stroke="#353535" stroke-width="0.9" />
<line x1="357.10" y1="615.50" x2="357.10" y2="613.70" stroke="#353535" stroke-width="0.9" />
<line x1="357.10" y1="462.20" x2="357.10" y2="464.00" stroke="#353535" stroke-width="0.9" />
<line x1="364.79" y1="615.50" x2="364.79" y2="613.70" stroke="#353535" stroke-width="0.9" />
<line x1="364.79" y1="462.20" x2="364.79" y2="464.00" stroke="#353535" stroke-width="0.9" />
<line x1="372.48" y1="615.50" x2="372.48" y2="612.30" stroke="#353535" stroke-width="0.9" />
<line x1="372.48" y1="462.20" x2="372.48" y2="465.40" stroke="#353535" stroke-width="0.9" />
<line x1="380.17" y1="615.50" x2="380.17" y2="613.70" stroke="#353535" stroke-width="0.9" />
<line x1="380.17" y1="462.20" x2="380.17" y2="464.00" stroke="#353535" stroke-width="0.9" />
<line x1="387.86" y1="615.50" x2="387.86" y2="613.70" stroke="#353535" stroke-width="0.9" />
<line x1="387.86" y1="462.20" x2="387.86" y2="464.00" stroke="#353535" stroke-width="0.9" />
<line x1="395.55" y1="615.50" x2="395.55" y2="613.70" stroke="#353535" stroke-width="0.9" />
<line x1="395.55" y1="462.20" x2="395.55" y2="464.00" stroke="#353535" stroke-width="0.9" />
<line x1="403.24" y1="615.50" x2="403.24" y2="612.30" stroke="#353535" stroke-width="0.9" />
<line x1="403.24" y1="462.20" x2="403.24" y2="465.40" stroke="#353535" stroke-width="0.9" />
<line x1="410.93" y1="615.50" x2="410.93" y2="613.70" stroke="#353535" stroke-width="0.9" />
<line x1="410.93" y1="462.20" x2="410.93" y2="464.00" stroke="#353535" stroke-width="0.9" />
<line x1="418.62" y1="615.50" x2="418.62" y2="613.70" stroke="#353535" stroke-width="0.9" />
<line x1="418.62" y1="462.20" x2="418.62" y2="464.00" stroke="#353535" stroke-width="0.9" />
<line x1="426.31" y1="615.50" x2="426.31" y2="613.70" stroke="#353535" stroke-width="0.9" />
<line x1="426.31" y1="462.20" x2="426.31" y2="464.00" stroke="#353535" stroke-width="0.9" />
<line x1="434.00" y1="615.50" x2="434.00" y2="612.30" stroke="#353535" stroke-width="0.9" />
<line x1="434.00" y1="462.20" x2="434.00" y2="465.40" stroke="#353535" stroke-width="0.9" />
<line x1="441.69" y1="615.50" x2="441.69" y2="613.70" stroke="#353535" stroke-width="0.9" />
<line x1="441.69" y1="462.20" x2="441.69" y2="464.00" stroke="#353535" stroke-width="0.9" />
<line x1="449.38" y1="615.50" x2="449.38" y2="613.70" stroke="#353535" stroke-width="0.9" />
<line x1="449.38" y1="462.20" x2="449.38" y2="464.00" stroke="#353535" stroke-width="0.9" />
<line x1="457.07" y1="615.50" x2="457.07" y2="613.70" stroke="#353535" stroke-width="0.9" />
<line x1="457.07" y1="462.20" x2="457.07" y2="464.00" stroke="#353535" stroke-width="0.9" />
<line x1="464.76" y1="615.50" x2="464.76" y2="612.30" stroke="#353535" stroke-width="0.9" />
<line x1="464.76" y1="462.20" x2="464.76" y2="465.40" stroke="#353535" stroke-width="0.9" />
<line x1="258.90" y1="476.14" x2="260.40" y2="476.14" stroke="#353535" stroke-width="0.9" />
<line x1="472.30" y1="476.14" x2="470.80" y2="476.14" stroke="#353535" stroke-width="0.9" />
<line x1="258.90" y1="490.07" x2="261.30" y2="490.07" stroke="#353535" stroke-width="0.9" />
<line x1="472.30" y1="490.07" x2="469.90" y2="490.07" stroke="#353535" stroke-width="0.9" />
<line x1="258.90" y1="504.01" x2="260.40" y2="504.01" stroke="#353535" stroke-width="0.9" />
<line x1="472.30" y1="504.01" x2="470.80" y2="504.01" stroke="#353535" stroke-width="0.9" />
<line x1="258.90" y1="517.95" x2="261.30" y2="517.95" stroke="#353535" stroke-width="0.9" />
<line x1="472.30" y1="517.95" x2="469.90" y2="517.95" stroke="#353535" stroke-width="0.9" />
<line x1="258.90" y1="531.88" x2="260.40" y2="531.88" stroke="#353535" stroke-width="0.9" />
<line x1="472.30" y1="531.88" x2="470.80" y2="531.88" stroke="#353535" stroke-width="0.9" />
<line x1="258.90" y1="545.82" x2="261.30" y2="545.82" stroke="#353535" stroke-width="0.9" />
<line x1="472.30" y1="545.82" x2="469.90" y2="545.82" stroke="#353535" stroke-width="0.9" />
<line x1="258.90" y1="559.75" x2="260.40" y2="559.75" stroke="#353535" stroke-width="0.9" />
<line x1="472.30" y1="559.75" x2="470.80" y2="559.75" stroke="#353535" stroke-width="0.9" />
<line x1="258.90" y1="573.69" x2="261.30" y2="573.69" stroke="#353535" stroke-width="0.9" />
<line x1="472.30" y1="573.69" x2="469.90" y2="573.69" stroke="#353535" stroke-width="0.9" />
<line x1="258.90" y1="587.63" x2="260.40" y2="587.63" stroke="#353535" stroke-width="0.9" />
<line x1="472.30" y1="587.63" x2="470.80" y2="587.63" stroke="#353535" stroke-width="0.9" />
<line x1="258.90" y1="601.56" x2="261.30" y2="601.56" stroke="#353535" stroke-width="0.9" />
<line x1="472.30" y1="601.56" x2="469.90" y2="601.56" stroke="#353535" stroke-width="0.9" />
<line x1="45.00" y1="2.30" x2="472.80" y2="2.30" stroke="#353535" stroke-width="1.1" />
<line x1="45.00" y1="155.60" x2="472.80" y2="155.60" stroke="#353535" stroke-width="1.1" />
<line x1="45.00" y1="308.90" x2="472.80" y2="308.90" stroke="#353535" stroke-width="1.1" />
<line x1="45.00" y1="462.20" x2="472.80" y2="462.20" stroke="#353535" stroke-width="1.1" />
<line x1="45.00" y1="615.50" x2="472.80" y2="615.50" stroke="#353535" stroke-width="1.1" />
<line x1="45.50" y1="1.80" x2="45.50" y2="616.00" stroke="#353535" stroke-width="1.1" />
<line x1="258.90" y1="1.80" x2="258.90" y2="616.00" stroke="#353535" stroke-width="1.1" />
<line x1="472.30" y1="1.80" x2="472.30" y2="616.00" stroke="#353535" stroke-width="1.1" />
<text x="41.90" y="5.00" font-size="6.4" fill="#000" stroke="#000" stroke-width="0.3" text-anchor="end" >0</text>
<text x="37.94" y="10.80" font-size="9.8" fill="#000" stroke="#000" stroke-width="0.3" text-anchor="end" textLength="11.0" lengthAdjust="spacingAndGlyphs" >10</text>
<text x="41.90" y="28.92" font-size="6.4" fill="#000" stroke="#000" stroke-width="0.3" text-anchor="end" >-2</text>
<text x="35.81" y="35.32" font-size="9.8" fill="#000" stroke="#000" stroke-width="0.3" text-anchor="end" textLength="11.0" lengthAdjust="spacingAndGlyphs" >10</text>
<text x="41.90" y="56.80" font-size="6.4" fill="#000" stroke="#000" stroke-width="0.3" text-anchor="end" >-4</text>
<text x="35.81" y="63.20" font-size="9.8" fill="#000" stroke="#000" stroke-width="0.3" text-anchor="end" textLength="11.0" lengthAdjust="spacingAndGlyphs" >10</text>
<text x="41.90" y="84.67" font-size="6.4" fill="#000" stroke="#000" stroke-width="0.3" text-anchor="end" >-6</text>
<text x="35.81" y="91.07" font-size="9.8" fill="#000" stroke="#000" stroke-width="0.3" text-anchor="end" textLength="11.0" lengthAdjust="spacingAndGlyphs" >10</text>
<text x="41.90" y="112.54" font-size="6.4" fill="#000" stroke="#000" stroke-width="0.3" text-anchor="end" >-8</text>
<text x="35.81" y="118.94" font-size="9.8" fill="#000" stroke="#000" stroke-width="0.3" text-anchor="end" textLength="11.0" lengthAdjust="spacingAndGlyphs" >10</text>
<text x="41.90" y="140.41" font-size="6.4" fill="#000" stroke="#000" stroke-width="0.3" text-anchor="end" >-10</text>
<text x="32.25" y="146.81" font-size="9.8" fill="#000" stroke="#000" stroke-width="0.3" text-anchor="end" textLength="11.0" lengthAdjust="spacingAndGlyphs" >10</text>
<text transform="translate(9.8,141.35) rotate(-90)" font-size="10.3" fill="#000" stroke="#000" stroke-width="0.25">Power Density (erg cm<tspan dy="-5.6" font-size="5.2">-3</tspan><tspan dy="5.6"> s</tspan><tspan dy="-5.6" font-size="5.2">-1</tspan><tspan dy="5.6">)</tspan></text>
<text x="41.90" y="157.50" font-size="6.4" fill="#000" stroke="#000" stroke-width="0.3" text-anchor="end" >0</text>
<text x="37.94" y="164.10" font-size="9.8" fill="#000" stroke="#000" stroke-width="0.3" text-anchor="end" textLength="11.0" lengthAdjust="spacingAndGlyphs" >10</text>
<text x="41.90" y="182.22" font-size="6.4" fill="#000" stroke="#000" stroke-width="0.3" text-anchor="end" >-2</text>
<text x="35.81" y="188.62" font-size="9.8" fill="#000" stroke="#000" stroke-width="0.3" text-anchor="end" textLength="11.0" lengthAdjust="spacingAndGlyphs" >10</text>
<text x="41.90" y="210.10" font-size="6.4" fill="#000" stroke="#000" stroke-width="0.3" text-anchor="end" >-4</text>
<text x="35.81" y="216.50" font-size="9.8" fill="#000" stroke="#000" stroke-width="0.3" text-anchor="end" textLength="11.0" lengthAdjust="spacingAndGlyphs" >10</text>
<text x="41.90" y="237.97" font-size="6.4" fill="#000" stroke="#000" stroke-width="0.3" text-anchor="end" >-6</text>
<text x="35.81" y="244.37" font-size="9.8" fill="#000" stroke="#000" stroke-width="0.3" text-anchor="end" textLength="11.0" lengthAdjust="spacingAndGlyphs" >10</text>
<text x="41.90" y="265.84" font-size="6.4" fill="#000" stroke="#000" stroke-width="0.3" text-anchor="end" >-8</text>
<text x="35.81" y="272.24" font-size="9.8" fill="#000" stroke="#000" stroke-width="0.3" text-anchor="end" textLength="11.0" lengthAdjust="spacingAndGlyphs" >10</text>
<text x="41.90" y="293.71" font-size="6.4" fill="#000" stroke="#000" stroke-width="0.3" text-anchor="end" >-10</text>
<text x="32.25" y="300.11" font-size="9.8" fill="#000" stroke="#000" stroke-width="0.3" text-anchor="end" textLength="11.0" lengthAdjust="spacingAndGlyphs" >10</text>
<text transform="translate(9.8,294.65) rotate(-90)" font-size="10.3" fill="#000" stroke="#000" stroke-width="0.25">Power Density (erg cm<tspan dy="-5.6" font-size="5.2">-3</tspan><tspan dy="5.6"> s</tspan><tspan dy="-5.6" font-size="5.2">-1</tspan><tspan dy="5.6">)</tspan></text>
<text x="41.90" y="310.80" font-size="6.4" fill="#000" stroke="#000" stroke-width="0.3" text-anchor="end" >0</text>
<text x="37.94" y="317.40" font-size="9.8" fill="#000" stroke="#000" stroke-width="0.3" text-anchor="end" textLength="11.0" lengthAdjust="spacingAndGlyphs" >10</text>
<text x="41.90" y="335.52" font-size="6.4" fill="#000" stroke="#000" stroke-width="0.3" text-anchor="end" >-2</text>
<text x="35.81" y="341.92" font-size="9.8" fill="#000" stroke="#000" stroke-width="0.3" text-anchor="end" textLength="11.0" lengthAdjust="spacingAndGlyphs" >10</text>
<text x="41.90" y="363.40" font-size="6.4" fill="#000" stroke="#000" stroke-width="0.3" text-anchor="end" >-4</text>
<text x="35.81" y="369.80" font-size="9.8" fill="#000" stroke="#000" stroke-width="0.3" text-anchor="end" textLength="11.0" lengthAdjust="spacingAndGlyphs" >10</text>
<text x="41.90" y="391.27" font-size="6.4" fill="#000" stroke="#000" stroke-width="0.3" text-anchor="end" >-6</text>
<text x="35.81" y="397.67" font-size="9.8" fill="#000" stroke="#000" stroke-width="0.3" text-anchor="end" textLength="11.0" lengthAdjust="spacingAndGlyphs" >10</text>
<text x="41.90" y="419.14" font-size="6.4" fill="#000" stroke="#000" stroke-width="0.3" text-anchor="end" >-8</text>
<text x="35.81" y="425.54" font-size="9.8" fill="#000" stroke="#000" stroke-width="0.3" text-anchor="end" textLength="11.0" lengthAdjust="spacingAndGlyphs" >10</text>
<text x="41.90" y="447.01" font-size="6.4" fill="#000" stroke="#000" stroke-width="0.3" text-anchor="end" >-10</text>
<text x="32.25" y="453.41" font-size="9.8" fill="#000" stroke="#000" stroke-width="0.3" text-anchor="end" textLength="11.0" lengthAdjust="spacingAndGlyphs" >10</text>
<text transform="translate(9.8,447.95) rotate(-90)" font-size="10.3" fill="#000" stroke="#000" stroke-width="0.25">Power Density (erg cm<tspan dy="-5.6" font-size="5.2">-3</tspan><tspan dy="5.6"> s</tspan><tspan dy="-5.6" font-size="5.2">-1</tspan><tspan dy="5.6">)</tspan></text>
<text x="41.90" y="464.10" font-size="6.4" fill="#000" stroke="#000" stroke-width="0.3" text-anchor="end" >0</text>
<text x="37.94" y="470.70" font-size="9.8" fill="#000" stroke="#000" stroke-width="0.3" text-anchor="end" textLength="11.0" lengthAdjust="spacingAndGlyphs" >10</text>
<text x="41.90" y="488.82" font-size="6.4" fill="#000" stroke="#000" stroke-width="0.3" text-anchor="end" >-2</text>
<text x="35.81" y="495.22" font-size="9.8" fill="#000" stroke="#000" stroke-width="0.3" text-anchor="end" textLength="11.0" lengthAdjust="spacingAndGlyphs" >10</text>
<text x="41.90" y="516.70" font-size="6.4" fill="#000" stroke="#000" stroke-width="0.3" text-anchor="end" >-4</text>
<text x="35.81" y="523.10" font-size="9.8" fill="#000" stroke="#000" stroke-width="0.3" text-anchor="end" textLength="11.0" lengthAdjust="spacingAndGlyphs" >10</text>
<text x="41.90" y="544.57" font-size="6.4" fill="#000" stroke="#000" stroke-width="0.3" text-anchor="end" >-6</text>
<text x="35.81" y="550.97" font-size="9.8" fill="#000" stroke="#000" stroke-width="0.3" text-anchor="end" textLength="11.0" lengthAdjust="spacingAndGlyphs" >10</text>
<text x="41.90" y="572.44" font-size="6.4" fill="#000" stroke="#000" stroke-width="0.3" text-anchor="end" >-8</text>
<text x="35.81" y="578.84" font-size="9.8" fill="#000" stroke="#000" stroke-width="0.3" text-anchor="end" textLength="11.0" lengthAdjust="spacingAndGlyphs" >10</text>
<text x="41.90" y="600.31" font-size="6.4" fill="#000" stroke="#000" stroke-width="0.3" text-anchor="end" >-10</text>
<text x="32.25" y="606.71" font-size="9.8" fill="#000" stroke="#000" stroke-width="0.3" text-anchor="end" textLength="11.0" lengthAdjust="spacingAndGlyphs" >10</text>
<text transform="translate(9.8,601.25) rotate(-90)" font-size="10.3" fill="#000" stroke="#000" stroke-width="0.25">Power Density (erg cm<tspan dy="-5.6" font-size="5.2">-3</tspan><tspan dy="5.6"> s</tspan><tspan dy="-5.6" font-size="5.2">-1</tspan><tspan dy="5.6">)</tspan></text>
<text x="66.80" y="633.90" font-size="10.3" fill="#000" stroke="#000" stroke-width="0.3" text-anchor="middle" >60</text>
<text x="97.56" y="633.90" font-size="10.3" fill="#000" stroke="#000" stroke-width="0.3" text-anchor="middle" >80</text>
<text x="128.32" y="633.90" font-size="10.3" fill="#000" stroke="#000" stroke-width="0.3" text-anchor="middle" >100</text>
<text x="159.08" y="633.90" font-size="10.3" fill="#000" stroke="#000" stroke-width="0.3" text-anchor="middle" >120</text>
<text x="189.84" y="633.90" font-size="10.3" fill="#000" stroke="#000" stroke-width="0.3" text-anchor="middle" >140</text>
<text x="220.60" y="633.90" font-size="10.3" fill="#000" stroke="#000" stroke-width="0.3" text-anchor="middle" >160</text>
<text x="251.36" y="633.90" font-size="10.3" fill="#000" stroke="#000" stroke-width="0.3" text-anchor="middle" >180</text>
<text x="151.73" y="649.60" font-size="10" fill="#000" stroke="#000" stroke-width="0.3" text-anchor="middle" >S (Mm)</text>
<text x="280.20" y="633.90" font-size="10.3" fill="#000" stroke="#000" stroke-width="0.3" text-anchor="middle" >60</text>
<text x="310.96" y="633.90" font-size="10.3" fill="#000" stroke="#000" stroke-width="0.3" text-anchor="middle" >80</text>
<text x="341.72" y="633.90" font-size="10.3" fill="#000" stroke="#000" stroke-width="0.3" text-anchor="middle" >100</text>
<text x="372.48" y="633.90" font-size="10.3" fill="#000" stroke="#000" stroke-width="0.3" text-anchor="middle" >120</text>
<text x="403.24" y="633.90" font-size="10.3" fill="#000" stroke="#000" stroke-width="0.3" text-anchor="middle" >140</text>
<text x="434.00" y="633.90" font-size="10.3" fill="#000" stroke="#000" stroke-width="0.3" text-anchor="middle" >160</text>
<text x="464.76" y="633.90" font-size="10.3" fill="#000" stroke="#000" stroke-width="0.3" text-anchor="middle" >180</text>
<text x="365.13" y="649.60" font-size="10" fill="#000" stroke="#000" stroke-width="0.3" text-anchor="middle" >S (Mm)</text>
<text x="56.10" y="29.00" font-size="12.2" fill="#000" stroke="#000" stroke-width="0.3" text-anchor="start" textLength="13.9" lengthAdjust="spacingAndGlyphs" >(a)</text>
<text x="85.10" y="28.80" font-size="12.5" fill="#000" stroke="#000" stroke-width="0.3" text-anchor="start" textLength="60.4" lengthAdjust="spacingAndGlyphs" >t=184 min</text>
<text x="269.50" y="29.00" font-size="12.2" fill="#000" stroke="#000" stroke-width="0.3" text-anchor="start" textLength="13.9" lengthAdjust="spacingAndGlyphs" >(b)</text>
<text x="298.50" y="28.80" font-size="12.5" fill="#000" stroke="#000" stroke-width="0.3" text-anchor="start" textLength="60.4" lengthAdjust="spacingAndGlyphs" >t=545 min</text>
<text x="56.10" y="182.30" font-size="12.2" fill="#000" stroke="#000" stroke-width="0.3" text-anchor="start" textLength="14.3" lengthAdjust="spacingAndGlyphs" >(c)</text>
<text x="85.10" y="182.10" font-size="12.5" fill="#000" stroke="#000" stroke-width="0.3" text-anchor="start" textLength="60.4" lengthAdjust="spacingAndGlyphs" >t=218 min</text>
<text x="269.50" y="182.30" font-size="12.2" fill="#000" stroke="#000" stroke-width="0.3" text-anchor="start" textLength="13.9" lengthAdjust="spacingAndGlyphs" >(d)</text>
<text x="298.50" y="182.10" font-size="12.5" fill="#000" stroke="#000" stroke-width="0.3" text-anchor="start" textLength="60.4" lengthAdjust="spacingAndGlyphs" >t=545 min</text>
<text x="56.10" y="335.60" font-size="12.2" fill="#000" stroke="#000" stroke-width="0.3" text-anchor="start" textLength="13.9" lengthAdjust="spacingAndGlyphs" >(e)</text>
<text x="85.10" y="335.40" font-size="12.5" fill="#000" stroke="#000" stroke-width="0.3" text-anchor="start" textLength="60.4" lengthAdjust="spacingAndGlyphs" >t=216 min</text>
<text x="269.50" y="335.60" font-size="12.2" fill="#000" stroke="#000" stroke-width="0.3" text-anchor="start" textLength="11.0" lengthAdjust="spacingAndGlyphs" >(f)</text>
<text x="298.50" y="335.40" font-size="12.5" fill="#000" stroke="#000" stroke-width="0.3" text-anchor="start" textLength="60.4" lengthAdjust="spacingAndGlyphs" >t=545 min</text>
<text x="56.10" y="488.90" font-size="12.2" fill="#000" stroke="#000" stroke-width="0.3" text-anchor="start" textLength="13.9" lengthAdjust="spacingAndGlyphs" >(g)</text>
<text x="85.10" y="488.70" font-size="12.5" fill="#000" stroke="#000" stroke-width="0.3" text-anchor="start" textLength="60.4" lengthAdjust="spacingAndGlyphs" >t=185 min</text>
<text x="269.50" y="488.90" font-size="12.2" fill="#000" stroke="#000" stroke-width="0.3" text-anchor="start" textLength="13.9" lengthAdjust="spacingAndGlyphs" >(h)</text>
<text x="298.50" y="488.70" font-size="12.5" fill="#000" stroke="#000" stroke-width="0.3" text-anchor="start" textLength="60.4" lengthAdjust="spacingAndGlyphs" >t=545 min</text>
<text x="62.30" y="135.30" font-size="16" fill="#000" stroke="#000" stroke-width="0.3" text-anchor="start" textLength="66.6" lengthAdjust="spacingAndGlyphs" >Case RF1</text>
<text x="62.30" y="288.60" font-size="16" fill="#000" stroke="#000" stroke-width="0.3" text-anchor="start" textLength="68.9" lengthAdjust="spacingAndGlyphs" >Case RF2</text>
<text x="62.30" y="441.90" font-size="16" fill="#000" stroke="#000" stroke-width="0.3" text-anchor="start" textLength="70.9" lengthAdjust="spacingAndGlyphs" >Case BQ3</text>
<text x="62.30" y="595.20" font-size="16" fill="#000" stroke="#000" stroke-width="0.3" text-anchor="start" textLength="70.9" lengthAdjust="spacingAndGlyphs" >Case DD3</text>
</svg></body></html>
